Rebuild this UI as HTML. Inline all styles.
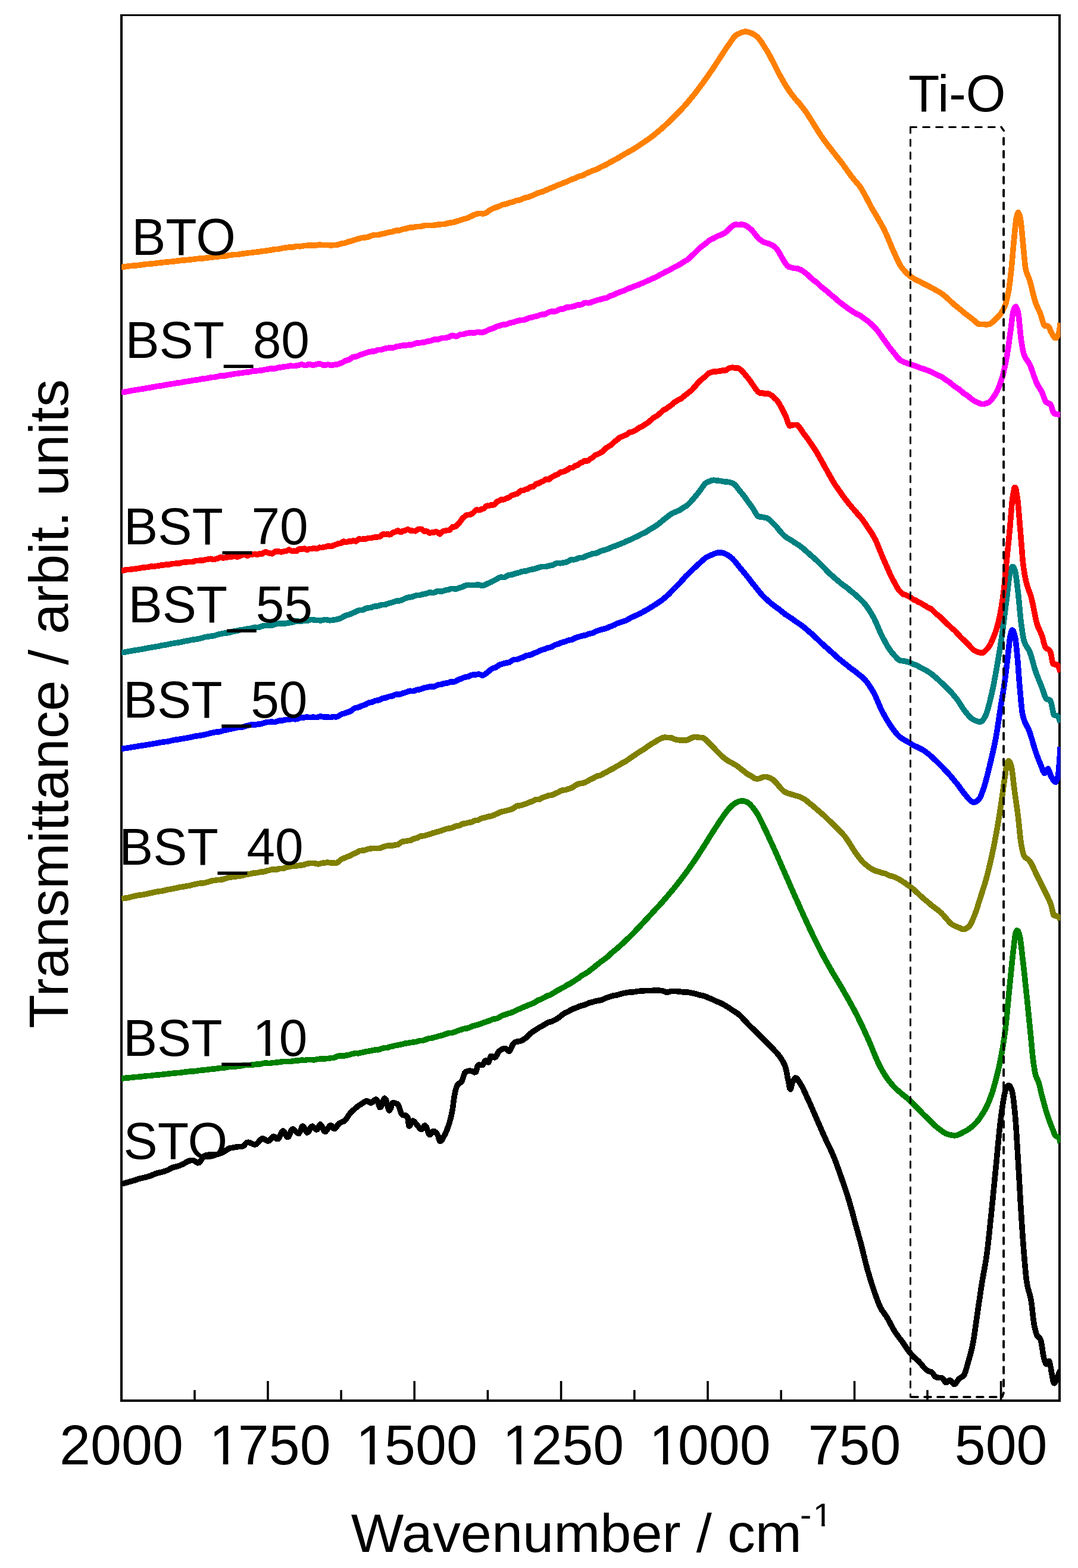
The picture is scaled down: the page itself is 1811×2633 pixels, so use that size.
<!DOCTYPE html>
<html lang="en">
<head>
<meta charset="utf-8">
<title>FTIR transmittance spectra</title>
<style>
html,body{margin:0;padding:0;background:#fff;}
body{width:1811px;height:2633px;overflow:hidden;}
svg{display:block;}
text{font-family:"Liberation Sans",sans-serif;fill:#000;}
.crv{fill:none;stroke-width:9.6;stroke-linejoin:round;stroke-linecap:butt;shape-rendering:crispEdges;}
.ax{fill:none;stroke:#000;stroke-width:3.3;stroke-linecap:square;}
.tk{stroke:#000;stroke-width:3.6;stroke-linecap:butt;}
.tl{font-size:93.4px;text-anchor:middle;}
.lb{font-size:85.7px;}
.at{font-size:92px;}
</style>
</head>
<body>
<svg width="1811" height="2633" viewBox="0 0 1811 2633">
<rect x="0" y="0" width="1811" height="2633" fill="#ffffff"/>
<defs><clipPath id="plot"><rect x="204" y="25" width="1577.3" height="2327"/></clipPath></defs>
<g fill="#000"><rect x="202" y="24" width="4" height="2330"/><rect x="1778" y="24" width="4" height="2330"/><rect x="202" y="24" width="1580" height="3"/><rect x="202" y="2350" width="1580" height="4"/></g>
<g clip-path="url(#plot)">
<path class="crv" stroke="#000000" d="M204 1988.2L206.5 1987.5L209 1986.8L211.5 1986.1L214 1985.5L216.5 1984.7L219 1984L221.5 1983.2L224 1982.6L226.5 1981.9L229 1981L231.5 1980.1L234 1979.2L236.5 1978.6L239 1978.1L241.5 1977.6L244 1977L246.5 1976.3L249 1975.6L251.5 1974.8L254 1974L256.4 1972.9L258.9 1971.8L261.4 1970.8L263.9 1970L266.4 1969.4L268.8 1968.9L271.3 1968.4L273.7 1967.7L276.2 1966.9L278.6 1966.1L281.1 1965.1L283.5 1963.9L286 1962.6L288.4 1961.3L290.9 1960.3L293.3 1959.6L295.8 1959.1L298.2 1958.4L300.6 1957.7L303 1956.8L305.3 1955.8L307.7 1954.6L310 1953.3L312.4 1951.9L314.8 1950.6L317.3 1949.5L319.8 1948.8L322.3 1948.6L324.9 1948.8L327.5 1949.9L329.8 1951.5L332 1952.8L334.6 1952.3L336.7 1949.8L338.4 1947.5L339.9 1945.2L341.4 1943.1L343.1 1941.2L345.2 1940.1L347.7 1939.4L350.3 1939.2L352.8 1939.2L355.4 1939.2L358 1939.3L360.6 1939.2L363.2 1938.8L365.8 1938.2L368.3 1937.3L370.9 1936.4L373.4 1935.5L375.8 1934.3L378 1932.9L380 1931.4L382.1 1930L384.1 1928.8L386.3 1927.9L388.8 1927.5L391.4 1927.2L393.9 1926.7L396.5 1926.2L399.1 1925.8L401.7 1925.5L404.3 1925.4L406.9 1925.3L409.5 1923.9L411.3 1921.9L412.9 1920L414.7 1918.6L416.8 1918.2L419.4 1918.8L421.8 1919.8L424.1 1920.8L426.4 1921.7L428.8 1922L431.4 1920.8L433.4 1918.8L435 1916.8L436.6 1914.8L438.3 1913.1L440.1 1911.9L442.6 1912.1L445 1913.4L447.1 1914.9L449.2 1916L451.7 1915.8L454 1913.7L455.7 1911.6L457.3 1909.7L459.1 1908.3L461.5 1908.9L463.5 1911L465.3 1912.7L467.5 1912.5L469.3 1909.6L470.5 1907.1L471.6 1904.7L472.7 1902.5L473.9 1900.5L475.4 1899.1L477.8 1901L479.2 1903.5L480.3 1905.9L481.5 1908L482.8 1909.6L485 1908.6L486.3 1905.7L487.3 1903.2L488.2 1900.8L489.2 1898.5L490.3 1896.6L491.8 1895.9L494.4 1897.3L496.4 1899.3L498.1 1901.1L500 1902.7L502.1 1903.5L504.7 1899.5L505.5 1897L506.4 1894.6L507.3 1892.4L508.4 1890.9L510.9 1893.3L512.2 1895.8L513.3 1898.2L514.4 1900.3L515.8 1901.9L518.1 1900.7L519.6 1898.1L520.7 1895.7L521.8 1893.5L523.1 1891.7L524.9 1891.2L527.3 1893.2L529 1895.2L530.7 1896.8L532.8 1896.8L534.6 1893.8L535.7 1891.4L536.8 1889.3L538.2 1888L540.8 1890.9L541.9 1893.5L542.9 1895.9L544 1898.1L545.2 1900L546.9 1900.4L549.3 1897.8L550.7 1895.5L552 1893.2L553.3 1891.2L554.9 1889.7L557.2 1890.4L558.9 1892.8L560.3 1894.7L562.1 1895.5L564.6 1893.5L566.1 1891.2L567.5 1889.1L568.9 1887.2L570.7 1885.9L572.9 1884.8L575.3 1883.8L577.7 1882.7L580 1881L581.8 1878.7L583.4 1876.4L584.8 1874.2L586.2 1872L587.7 1870L589.3 1868.1L591.2 1866.4L593 1864.7L594.9 1863L596.8 1861.3L598.8 1859.6L600.8 1858L602.8 1856.5L605 1855.1L607.1 1853.8L609.3 1852.3L611.5 1850.8L613.7 1849.4L616.1 1848.6L618.6 1849.4L620.8 1851.1L623 1852L625.6 1850.8L627.6 1848.9L629.4 1847.1L631.4 1845.9L633.8 1847.8L634.8 1850.6L635.6 1853.2L636.3 1855.6L637.1 1857.9L638.1 1859.7L639.9 1858.6L641.2 1855.6L642.1 1853L643 1850.5L643.8 1848.1L644.7 1845.9L645.8 1844.2L647.8 1845.6L648.9 1848.6L649.6 1851.3L650.3 1853.9L650.9 1856.4L651.6 1858.8L652.3 1861.2L653.1 1863.3L654.2 1864.8L656.4 1861.4L657.1 1858.7L657.8 1856.2L658.5 1853.9L659.3 1852L660.8 1851.5L663.4 1852.2L665.9 1853.1L668.3 1854.2L670 1857.6L670.9 1860.3L671.7 1862.8L672.5 1865.3L673.3 1867.6L674.2 1869.8L675.3 1871.6L677.1 1872.5L679.6 1872.9L682.2 1873.1L684.7 1875.6L685.3 1879.3L685.9 1883.9L686.5 1888.2L687.1 1890.9L688.1 1890.9L690 1887.7L691.1 1885.3L692.2 1883.3L693.6 1882.1L696.2 1883.7L697.9 1885.8L699.5 1887.8L701.2 1889.8L702.9 1891.9L704.4 1894L706.1 1895.7L708.2 1896.4L710.7 1893.6L712.2 1891.5L713.7 1889.8L716.1 1892.3L717.2 1895.1L718 1897.6L718.9 1900.1L719.7 1902.4L720.7 1904.5L722 1905.6L724.6 1903.3L726 1901.2L727.6 1899.6L729.8 1899.9L732.2 1901.7L734.1 1903.7L735.8 1906.8L736.5 1909.5L737.2 1912L737.9 1914.3L738.7 1916.2L740.1 1916.4L742.5 1914L743.9 1911.6L745.2 1909.3L746.4 1907L747.6 1904.7L748.8 1902.2L749.9 1899.7L750.9 1897.2L751.8 1894.7L752.7 1892.2L753.6 1889.7L754.4 1887.2L755.2 1884.7L755.9 1882.1L756.6 1879.5L757.3 1877L757.9 1874.4L758.5 1871.7L759.1 1868.9L759.7 1865.9L760.3 1862.3L760.9 1858.2L761.5 1853.6L762.1 1849L762.7 1844.6L763.3 1840.5L763.9 1837L764.5 1834.3L765.1 1831.9L765.8 1829.4L766.5 1827L767.2 1824.7L768.1 1822.6L769.3 1820.9L771 1819.4L773.2 1818.2L775.4 1816.2L777 1812.7L777.8 1810.1L778.6 1807.6L779.4 1805.1L780.2 1802.8L781.2 1800.8L782.9 1799.5L785.1 1798.7L787.5 1798.3L790 1798.2L792.6 1798.5L795 1799.7L797.2 1800.9L799.7 1799.8L800.7 1796.5L801.3 1793.9L801.9 1791.5L802.6 1789.3L803.6 1788.1L806.2 1788.2L808.7 1788.7L811.2 1788.2L812.6 1785.6L813.6 1783.3L814.7 1781.3L816.2 1780.6L818.8 1782.7L820.7 1784.1L823.3 1777.4L824 1775.1L824.8 1773.4L826.2 1773.4L828.7 1774.7L830.8 1775.8L833.2 1774.3L834.8 1771.6L835.9 1769.2L837.1 1766.9L838.5 1765.1L840.5 1763.6L842.5 1762.4L844.6 1761.3L846.9 1760.6L849.4 1760.5L851.9 1762.5L853.6 1764.5L855.6 1765.4L858 1761.6L859.2 1759L860.2 1756.6L861.3 1754.3L862.6 1752.2L864.4 1750.6L866.7 1749.4L869.2 1749L871.7 1748.7L874.2 1748.2L876.6 1747.2L878.9 1746L881 1744.6L883.1 1743.1L885.2 1741.4L887.2 1739.5L889.2 1737.4L891.2 1735.4L893.2 1733.7L895.3 1732.2L897.4 1730.9L899.5 1729.6L901.7 1728.2L903.8 1726.8L905.9 1725.4L908.1 1724.2L910.3 1723.1L912.5 1721.9L914.8 1720.5L917.1 1719L919.4 1717.6L921.9 1716.5L924.3 1715.9L926.8 1715.2L929.2 1714.2L931.6 1713L933.9 1711.7L936.1 1710.4L938.2 1709L940.3 1707.5L942.3 1705.9L944.4 1704.1L946.5 1702.5L948.7 1701.2L951 1700.1L953.3 1699.1L955.6 1698L957.9 1696.6L960.3 1695.3L962.6 1694.2L965 1693.3L967.4 1692.5L969.8 1691.6L972.2 1690.4L974.6 1689.4L977.1 1688.7L979.5 1688.2L982 1687.5L984.4 1686.5L986.9 1685.3L989.4 1684.2L991.9 1683.5L994.4 1682.9L996.9 1682.3L999.4 1681.5L1001.9 1680.8L1004.4 1680.3L1006.9 1680L1009.4 1679.5L1011.9 1678.7L1014.4 1677.5L1016.8 1676.3L1019.3 1675.4L1021.8 1674.6L1024.2 1673.8L1026.7 1673L1029.2 1672.2L1031.7 1671.6L1034.2 1671.3L1036.7 1670.9L1039.2 1670.2L1041.7 1669.4L1044.3 1668.6L1046.8 1667.9L1049.4 1667.5L1051.9 1667.1L1054.5 1666.6L1057.1 1666.1L1059.6 1665.9L1062.2 1665.8L1064.8 1665.7L1067.4 1665.3L1069.9 1664.8L1072.5 1664.4L1075.1 1664.2L1077.7 1664.1L1080.3 1663.9L1082.9 1663.7L1085.5 1663.5L1088.1 1663.5L1090.7 1663.6L1093.3 1663.6L1095.9 1663.3L1098.5 1663L1101.1 1662.8L1103.7 1662.8L1106.3 1663L1108.9 1663.3L1111.5 1663.6L1114 1664.1L1116.6 1665L1118.8 1666.3L1121.4 1666.1L1124 1665.5L1126.5 1664.7L1129.1 1664.3L1131.7 1664.3L1134.3 1664.5L1136.9 1664.7L1139.5 1664.8L1142.1 1665.1L1144.7 1665.5L1147.2 1665.9L1149.8 1666L1152.4 1666L1155 1666.1L1157.6 1666.4L1160.1 1667L1162.7 1667.6L1165.3 1668.1L1167.8 1668.7L1170.4 1669.4L1172.9 1670.2L1175.4 1670.9L1177.9 1671.5L1180.4 1671.9L1182.8 1672.5L1185.3 1673.3L1187.8 1674.4L1190.2 1675.5L1192.6 1676.5L1195.1 1677.4L1197.5 1678.5L1199.9 1679.7L1202.3 1680.9L1204.6 1681.9L1207 1682.8L1209.3 1683.6L1211.6 1684.7L1214 1685.9L1216.2 1687.3L1218.5 1688.6L1220.8 1690L1223 1691.3L1225.3 1692.8L1227.5 1694.3L1229.7 1695.8L1231.9 1697.3L1234.1 1698.6L1236.2 1699.9L1238.3 1701.3L1240.4 1702.9L1242.4 1704.6L1244.3 1706.4L1246.2 1708.3L1248 1710.2L1249.8 1712.1L1251.6 1714L1253.4 1716L1255.2 1717.9L1257 1719.9L1258.8 1721.8L1260.7 1723.6L1262.5 1725.4L1264.4 1727.1L1266.2 1728.8L1268 1730.6L1269.9 1732.5L1271.7 1734.3L1273.6 1736.2L1275.4 1737.9L1277.3 1739.7L1279.1 1741.5L1281 1743.3L1282.8 1745.3L1284.7 1747.2L1286.5 1749.1L1288.4 1750.9L1290.3 1752.7L1292.1 1754.5L1294 1756.3L1295.8 1758.2L1297.6 1760.1L1299.4 1762.1L1301.1 1764L1302.9 1765.8L1304.6 1767.7L1306.3 1769.6L1308 1771.6L1309.6 1773.7L1311.2 1776L1312.7 1778.2L1314.1 1780.5L1315.5 1782.8L1316.7 1785.3L1317.9 1787.8L1318.9 1790.3L1319.8 1793.1L1320.5 1795.9L1321.1 1798.7L1321.7 1801.7L1322.3 1804.9L1322.9 1808L1323.5 1811L1324.1 1813.8L1324.7 1816.8L1325.3 1820L1325.9 1823.3L1326.5 1826.1L1327.1 1828.2L1328.1 1829.1L1329.9 1823.1L1330.5 1820.5L1331.1 1818.2L1331.9 1816.3L1333.1 1813.9L1334.4 1811.8L1335.8 1810L1338.1 1810.5L1340.2 1813L1341.8 1815.3L1343.2 1817.5L1344.6 1819.7L1346 1822L1347.3 1824.3L1348.6 1826.7L1349.8 1829.1L1350.9 1831.6L1352 1834L1353.1 1836.4L1354.2 1838.8L1355.2 1841.1L1356.3 1843.5L1357.4 1845.8L1358.5 1848.2L1359.6 1850.5L1360.6 1852.9L1361.7 1855.2L1362.7 1857.6L1363.8 1859.9L1364.8 1862.3L1365.8 1864.7L1366.8 1867.1L1367.9 1869.5L1368.9 1871.9L1369.9 1874.3L1371 1876.6L1372 1879L1373 1881.4L1374.1 1883.8L1375.1 1886.2L1376.2 1888.5L1377.2 1891L1378.3 1893.4L1379.3 1895.8L1380.4 1898.2L1381.4 1900.6L1382.5 1903L1383.6 1905.4L1384.6 1907.8L1385.7 1910.1L1386.8 1912.5L1387.8 1914.8L1388.9 1917.1L1390 1919.4L1391.1 1921.7L1392.2 1924L1393.4 1926.3L1394.5 1928.7L1395.6 1931L1396.7 1933.4L1397.8 1935.8L1398.8 1938.2L1399.9 1940.6L1400.9 1943L1401.9 1945.5L1402.8 1947.9L1403.8 1950.4L1404.7 1952.9L1405.6 1955.3L1406.5 1957.8L1407.4 1960.3L1408.3 1962.8L1409.2 1965.3L1410.1 1967.7L1410.9 1970.2L1411.8 1972.7L1412.7 1975.1L1413.5 1977.6L1414.4 1980L1415.2 1982.5L1416.1 1984.9L1417 1987.4L1417.8 1989.8L1418.6 1992.3L1419.5 1994.7L1420.3 1997.2L1421.1 1999.7L1421.9 2002.2L1422.7 2004.6L1423.5 2007.1L1424.3 2009.6L1425.1 2012.1L1425.9 2014.6L1426.6 2017.1L1427.4 2019.6L1428.1 2022.1L1428.8 2024.6L1429.5 2027.2L1430.2 2029.7L1430.9 2032.2L1431.6 2034.7L1432.3 2037.2L1432.9 2039.8L1433.6 2042.3L1434.3 2044.8L1435 2047.3L1435.6 2049.8L1436.3 2052.4L1437 2054.9L1437.7 2057.4L1438.4 2059.9L1439.1 2062.4L1439.8 2064.9L1440.5 2067.4L1441.2 2069.9L1441.9 2072.4L1442.6 2074.9L1443.3 2077.4L1444 2079.9L1444.7 2082.4L1445.4 2084.9L1446.1 2087.5L1446.8 2090L1447.4 2092.5L1448.1 2095.1L1448.7 2097.6L1449.3 2100.2L1449.9 2102.7L1450.5 2105.2L1451.1 2107.8L1451.8 2110.3L1452.4 2112.8L1453 2115.3L1453.6 2117.8L1454.2 2120.3L1454.8 2122.8L1455.5 2125.3L1456.2 2127.8L1456.8 2130.2L1457.5 2132.7L1458.2 2135.2L1459 2137.6L1459.7 2140.1L1460.4 2142.6L1461.2 2145.1L1461.9 2147.6L1462.7 2150L1463.5 2152.5L1464.2 2155L1465 2157.5L1465.8 2159.9L1466.7 2162.4L1467.5 2164.8L1468.4 2167.3L1469.2 2169.8L1470 2172.2L1470.9 2174.7L1471.7 2177.1L1472.6 2179.5L1473.5 2181.9L1474.4 2184.4L1475.3 2186.7L1476.3 2189.1L1477.2 2191.5L1478.3 2193.8L1479.4 2196.1L1480.6 2198.3L1481.8 2200.4L1483.2 2202.4L1484.7 2204.4L1486.2 2206.5L1487.7 2208.6L1489.2 2210.8L1490.6 2213.1L1492 2215.5L1493.2 2217.8L1494.5 2220.1L1495.7 2222.4L1496.9 2224.7L1498.2 2227L1499.4 2229.3L1500.7 2231.5L1502 2233.7L1503.3 2235.9L1504.7 2238.1L1506.2 2240.3L1507.7 2242.4L1509.2 2244.4L1510.7 2246.5L1512.3 2248.5L1513.8 2250.5L1515.4 2252.5L1516.9 2254.7L1518.4 2256.9L1519.8 2259.1L1521.3 2261.2L1522.8 2263.4L1524.2 2265.5L1525.7 2267.6L1527.3 2269.6L1528.9 2271.6L1530.6 2273.5L1532.3 2275.5L1534.1 2277.4L1535.9 2279.3L1537.8 2281L1539.7 2282.7L1541.6 2284.4L1543.5 2286.2L1545.3 2288.1L1547.1 2290.1L1548.8 2292.1L1550.4 2294.1L1552.1 2296.1L1553.8 2297.9L1555.6 2299.6L1557.6 2301.1L1559.7 2302.4L1562.1 2303.2L1564.7 2303.9L1567.1 2306.1L1568.6 2308.3L1570 2310.4L1571.5 2312.1L1573.5 2312.9L1576.1 2313.3L1578.7 2313.5L1581.2 2313.6L1583.8 2314.6L1585.6 2317.2L1586.9 2319.5L1588.3 2321.3L1590.3 2321.5L1592.6 2319.7L1594.6 2318.1L1596.9 2318.1L1599 2320.4L1600.7 2322.4L1602.4 2324.1L1604.6 2324L1606.7 2321.5L1608.2 2319.2L1609.6 2317.1L1611.2 2315.3L1613.1 2313.8L1615.4 2312.7L1617.6 2311.2L1619.6 2309L1620.9 2306.1L1621.9 2303.5L1622.7 2300.9L1623.4 2298.3L1624.2 2295.7L1624.8 2293.2L1625.5 2290.7L1626.2 2288.3L1626.9 2285.8L1627.7 2283.3L1628.4 2280.8L1629.1 2278.3L1629.8 2275.7L1630.5 2273.2L1631.1 2270.6L1631.8 2268.1L1632.4 2265.5L1633 2262.8L1633.6 2260.1L1634.2 2257.2L1634.8 2254.2L1635.4 2250.8L1636 2247.3L1636.6 2243.5L1637.2 2239.5L1637.8 2235.3L1638.4 2231.1L1639 2226.8L1639.6 2222.4L1640.2 2218.1L1640.8 2213.8L1641.4 2209.5L1642 2205.4L1642.6 2201.4L1643.2 2197.3L1643.8 2193.3L1644.4 2189.2L1645 2185.1L1645.6 2181L1646.2 2176.9L1646.8 2172.8L1647.4 2168.8L1648 2164.8L1648.6 2160.9L1649.2 2157L1649.8 2153.2L1650.4 2149.6L1651 2146.1L1651.6 2142.7L1652.2 2139.4L1652.8 2136.1L1653.4 2132.9L1654 2129.6L1654.6 2126.3L1655.2 2122.9L1655.8 2119.3L1656.4 2115.6L1657 2111.7L1657.6 2107.6L1658.2 2103.1L1658.8 2098.4L1659.4 2093.4L1660 2088.3L1660.6 2082.9L1661.2 2077.3L1661.8 2071.7L1662.4 2065.9L1663 2060.1L1663.6 2054.3L1664.2 2048.5L1664.8 2042.7L1665.4 2036.9L1666 2031.2L1666.6 2025.3L1667.2 2019.4L1667.8 2013.4L1668.4 2007.4L1669 2001.3L1669.6 1995.2L1670.2 1989.1L1670.8 1983L1671.4 1976.9L1672 1970.8L1672.6 1964.7L1673.2 1958.7L1673.8 1952.5L1674.4 1946.2L1675 1939.9L1675.6 1933.4L1676.2 1927L1676.8 1920.6L1677.4 1914.4L1678 1908.2L1678.6 1902.2L1679.2 1896.5L1679.8 1891L1680.4 1885.8L1681 1880.9L1681.6 1876.2L1682.2 1871.5L1682.8 1867L1683.4 1862.6L1684 1858.3L1684.6 1854.3L1685.2 1850.4L1685.8 1846.8L1686.4 1843.4L1687 1840.4L1687.6 1837.5L1688.2 1834.6L1688.8 1831.9L1689.4 1829.4L1690 1827.1L1690.8 1825.3L1692.3 1823.8L1694.3 1822.6L1696.8 1824L1698.2 1826.8L1699.2 1829.4L1700.1 1832L1700.9 1835.1L1701.5 1838.5L1702.1 1842.5L1702.7 1847.1L1703.3 1852.1L1703.9 1857.6L1704.5 1863.3L1705.1 1869.2L1705.7 1875.6L1706.3 1883.2L1706.9 1891.8L1707.5 1901L1708.1 1910.8L1708.7 1920.9L1709.3 1931.1L1709.9 1941.2L1710.5 1951L1711.1 1961.1L1711.7 1971.5L1712.3 1982.1L1712.9 1992.9L1713.5 2003.6L1714.1 2014.1L1714.7 2024.4L1715.3 2034.2L1715.9 2043.5L1716.5 2052.8L1717.1 2061.9L1717.7 2070.8L1718.3 2079.4L1718.9 2087.7L1719.5 2095.5L1720.1 2102.9L1720.7 2110.2L1721.3 2117.4L1721.9 2124.5L1722.5 2131.2L1723.1 2137.5L1723.7 2143.3L1724.3 2148.4L1724.9 2152.7L1725.5 2156.2L1726.1 2159.3L1726.7 2162.1L1727.3 2164.5L1728 2166.9L1728.7 2169.4L1729.4 2171.9L1730.1 2174.5L1730.8 2177.1L1731.4 2179.8L1732 2182.8L1732.6 2186.3L1733.2 2190.7L1733.8 2195.7L1734.4 2201.1L1735 2206.6L1735.6 2212L1736.2 2217L1736.8 2221.4L1737.4 2224.9L1738 2227.7L1738.6 2230.5L1739.2 2233.1L1739.8 2235.5L1740.5 2237.9L1741.2 2240.1L1742.1 2242.3L1743.2 2244.1L1745 2245.6L1747.1 2247.4L1748.7 2251.2L1749.3 2254.1L1749.9 2257.6L1750.5 2261.4L1751.1 2265.5L1751.7 2269.6L1752.3 2273.4L1752.9 2276.9L1753.5 2279.9L1754.1 2282L1754.9 2284.6L1755.7 2286.9L1756.5 2289.1L1757.6 2290.8L1759.9 2289.2L1761.3 2287L1762.8 2285.6L1765.4 2297.1L1766 2301.4L1766.6 2305.4L1767.2 2308.5L1767.8 2311.6L1768.4 2314.9L1769 2318L1769.6 2320.6L1770.3 2322.5L1771.5 2322.8L1773.4 2319.2L1774.4 2316.7L1775.3 2314.3L1776.3 2312.1L1777.4 2309.7L1778.5 2307.3L1779.6 2304.9L1780.6 2302.5L1781.3 2301"/>
<path class="crv" stroke="#008000" d="M204 1811L206.6 1810.8L209.2 1810.4L211.8 1810.2L214.4 1810.1L216.9 1809.8L219.5 1809.5L222.1 1809.2L224.7 1809L227.3 1808.7L229.9 1808.5L232.5 1808.3L235.1 1808L237.6 1807.8L240.2 1807.5L242.8 1807.1L245.4 1806.8L248 1806.6L250.6 1806.4L253.2 1806.3L255.8 1806L258.3 1805.6L260.9 1805.3L263.5 1805.1L266.1 1804.9L268.7 1804.7L271.3 1804.4L273.9 1804.1L276.4 1803.8L279 1803.5L281.6 1803.3L284.2 1802.9L286.8 1802.7L289.4 1802.5L292 1802.1L294.5 1801.9L297.1 1801.7L299.7 1801.5L302.3 1801.3L304.9 1801L307.5 1800.6L310.1 1800.2L312.6 1800L315.2 1799.7L317.8 1799.3L320.4 1799.1L323 1799L325.6 1798.8L328.2 1798.6L330.7 1798.3L333.3 1797.8L335.9 1797.4L338.5 1797.2L341.1 1796.9L343.7 1796.7L346.3 1796.5L348.8 1796.1L351.4 1795.7L354 1795.5L356.6 1795.1L359.2 1794.8L361.7 1794.7L364.3 1794.4L366.9 1793.9L369.5 1793.6L372.1 1793.4L374.7 1793.2L377.2 1793L379.8 1792.6L382.4 1791.9L385 1791.5L387.6 1791.4L390.2 1791.2L392.7 1791L395.3 1791L397.9 1790.7L400.5 1790.4L403.1 1790.2L405.7 1789.6L408.2 1788.9L410.8 1788.7L413.4 1788.5L416 1788.3L418.6 1788.3L421.2 1788.3L423.8 1788L426.4 1787.7L428.9 1787.5L431.5 1787L434.1 1786.8L436.7 1786.8L439.3 1786.3L441.9 1785.5L444.5 1785.2L447.1 1785.1L449.7 1785.3L452.2 1785.6L454.8 1785.3L457.4 1784.6L460 1784.4L462.6 1784.3L465.2 1783.9L467.8 1783.7L470.4 1783.4L473 1782.9L475.5 1782.6L478.1 1782.5L480.7 1782.3L483.3 1782.3L485.9 1782.7L488.5 1782.5L491.1 1781.9L493.7 1781.6L496.3 1781.2L498.9 1780.8L501.5 1780.8L504.1 1780.5L506.6 1780.1L509.2 1780.3L511.8 1780.5L514.4 1780L517 1779.5L519.6 1779.3L522.2 1779.3L524.8 1779.6L527.4 1779.9L530 1779.4L532.6 1778.7L535.2 1778.4L537.8 1778.1L540.4 1777.8L543 1778L545.6 1778L548.1 1777.6L550.7 1777.5L553.3 1777.2L555.9 1776.6L558.4 1776.5L561 1776.2L563.6 1775.1L566.1 1774L568.7 1773.3L571.2 1772.9L573.8 1773L576.3 1773.2L578.9 1772.9L581.5 1772.2L584 1771.9L586.6 1771.4L589.1 1770.4L591.7 1769.6L594.3 1769.1L596.8 1768.6L599.4 1768.7L602 1768.8L604.5 1768.2L607.1 1767.5L609.6 1767.2L612.2 1766.5L614.8 1765.8L617.3 1765.5L619.9 1765.1L622.4 1764.5L625 1764.1L627.5 1763.5L630.1 1762.8L632.6 1762.7L635.2 1762.8L637.7 1762.1L640.3 1761.1L642.8 1760.3L645.4 1759.6L647.9 1759.4L650.5 1759.4L653 1758.8L655.5 1757.7L658.1 1757.1L660.6 1756.6L663.1 1755.8L665.7 1755.4L668.2 1755L670.8 1754.4L673.3 1754L675.8 1753.6L678.4 1752.7L680.9 1752L683.5 1751.8L686 1751.4L688.6 1750.8L691.2 1750.5L693.7 1750.2L696.3 1749.7L698.9 1749.4L701.4 1748.7L704 1747.8L706.5 1747.4L709.1 1747.5L711.6 1747L714.1 1746L716.7 1745.1L719.2 1744.1L721.7 1743.4L724.2 1743.4L726.7 1743L729.2 1742.1L731.8 1741.4L734.3 1740.8L736.8 1740L739.3 1739.3L741.8 1738.9L744.3 1738L746.8 1737.1L749.3 1736.3L751.8 1735.4L754.3 1734.5L756.8 1734.4L759.3 1734.3L761.8 1733.6L764.3 1732.7L766.8 1731.8L769.3 1730.7L771.8 1729.9L774.3 1729.3L776.8 1728.3L779.3 1727.4L781.8 1727.1L784.3 1726.9L786.8 1726.1L789.3 1725.2L791.7 1724.1L794.2 1722.9L796.7 1722.2L799.2 1721.8L801.7 1721.1L804.1 1720.2L806.6 1719.5L809.1 1718.7L811.5 1717.5L814 1716.7L816.4 1716L818.9 1715.1L821.4 1714.2L823.8 1713.3L826.3 1712.2L828.7 1711.2L831.2 1710.9L833.6 1710.6L836 1709.7L838.5 1708.4L840.9 1707.1L843.3 1705.6L845.8 1704.6L848.2 1704L850.6 1703.2L853 1702.2L855.5 1701.5L857.9 1700.9L860.3 1699.9L862.7 1698.9L865.1 1697.8L867.5 1696.6L869.9 1695.3L872.3 1694.4L874.7 1693.5L877.1 1692.2L879.5 1691.1L881.9 1690.4L884.2 1689.3L886.6 1688.1L889 1687.2L891.3 1686.4L893.7 1685.4L896.1 1684.4L898.4 1683.3L900.8 1681.6L903.1 1680L905.5 1679.1L907.8 1678.4L910.1 1677.3L912.5 1676.1L914.8 1674.8L917.1 1673.4L919.5 1672.2L921.8 1671.5L924.1 1670.7L926.4 1669.4L928.7 1668L931 1666.8L933.3 1665.3L935.6 1663.7L937.9 1662.5L940.1 1661.4L942.4 1660.1L944.7 1658.9L947 1657.9L949.2 1656.5L951.5 1654.9L953.7 1653.6L955.9 1652.6L958.2 1651.4L960.4 1649.9L962.6 1648.6L964.8 1647.2L967 1645.7L969.2 1644.2L971.4 1642.9L973.6 1641.3L975.8 1639.4L977.9 1637.8L980.1 1636.7L982.2 1635.6L984.4 1634.4L986.5 1633.1L988.6 1631.6L990.7 1629.9L992.8 1628.1L994.9 1626.5L997 1625L999.1 1623.3L1001.2 1621.5L1003.2 1619.9L1005.3 1618.3L1007.3 1616.7L1009.4 1615L1011.4 1613.5L1013.4 1612.2L1015.5 1610.7L1017.5 1609.2L1019.5 1607.6L1021.5 1606L1023.5 1604L1025.5 1602L1027.5 1600.1L1029.5 1598.5L1031.5 1597L1033.5 1595.4L1035.4 1593.7L1037.4 1592.1L1039.3 1590.4L1041.3 1588.6L1043.2 1586.9L1045.1 1585.2L1047.1 1583.5L1049 1581.6L1050.9 1579.7L1052.8 1577.8L1054.7 1576.1L1056.5 1574.4L1058.4 1572.5L1060.3 1570.7L1062.1 1568.9L1063.9 1567L1065.8 1565.1L1067.6 1563.2L1069.4 1561.3L1071.2 1559.5L1072.9 1557.6L1074.7 1555.7L1076.5 1553.7L1078.3 1551.9L1080 1550L1081.8 1548.1L1083.6 1546.1L1085.3 1544.2L1087.1 1542.3L1088.9 1540.4L1090.6 1538.5L1092.4 1536.6L1094.2 1534.8L1095.9 1532.9L1097.7 1530.9L1099.5 1528.9L1101.2 1526.9L1103 1525L1104.8 1523.2L1106.5 1521.4L1108.3 1519.5L1110 1517.6L1111.8 1515.7L1113.5 1513.7L1115.2 1511.7L1117 1509.6L1118.7 1507.7L1120.4 1505.7L1122.1 1503.8L1123.8 1501.7L1125.4 1499.7L1127.1 1497.7L1128.8 1495.8L1130.4 1493.8L1132.1 1491.8L1133.7 1489.7L1135.3 1487.7L1137 1485.7L1138.6 1483.6L1140.2 1481.5L1141.8 1479.5L1143.4 1477.5L1145 1475.4L1146.5 1473.4L1148.1 1471.2L1149.7 1469.1L1151.2 1467L1152.8 1464.9L1154.3 1462.9L1155.9 1460.7L1157.4 1458.6L1158.9 1456.4L1160.4 1454.3L1161.9 1452.2L1163.4 1450L1164.8 1447.9L1166.3 1445.7L1167.7 1443.6L1169.2 1441.5L1170.6 1439.4L1172.1 1437.2L1173.5 1434.9L1174.9 1432.7L1176.3 1430.5L1177.8 1428.3L1179.2 1426.1L1180.6 1423.9L1182 1421.7L1183.4 1419.5L1184.8 1417.3L1186.1 1415.2L1187.5 1412.9L1188.9 1410.7L1190.2 1408.4L1191.6 1406.2L1193 1404.1L1194.4 1401.9L1195.8 1399.8L1197.2 1397.6L1198.6 1395.4L1200 1393.2L1201.4 1391L1202.8 1388.9L1204.2 1386.7L1205.6 1384.5L1207 1382.2L1208.5 1380L1209.9 1377.9L1211.4 1375.8L1212.9 1373.6L1214.4 1371.5L1215.8 1369.4L1217.3 1367.4L1218.8 1365.3L1220.3 1363.3L1221.9 1361.3L1223.5 1359.2L1225.2 1357.3L1227 1355.5L1228.9 1353.8L1230.8 1352L1232.8 1350.4L1234.8 1348.9L1237 1347.6L1239.3 1346.5L1241.7 1345.6L1244.1 1345.1L1246.6 1344.8L1249.2 1345L1251.8 1345.6L1254.2 1346.6L1256.6 1347.8L1258.8 1349.6L1260.8 1351.5L1262.6 1353.5L1264.3 1355.5L1265.9 1357.6L1267.5 1359.7L1269 1361.8L1270.6 1364L1272 1366.3L1273.4 1368.6L1274.6 1370.9L1275.9 1373.3L1277.1 1375.6L1278.2 1378L1279.4 1380.3L1280.5 1382.6L1281.6 1384.9L1282.7 1387.3L1283.8 1389.6L1285 1391.9L1286.1 1394.2L1287.3 1396.6L1288.4 1399L1289.5 1401.4L1290.6 1403.8L1291.7 1406.2L1292.8 1408.6L1293.9 1411L1295 1413.3L1296.1 1415.7L1297.1 1418L1298.2 1420.4L1299.3 1422.7L1300.4 1425.1L1301.4 1427.4L1302.5 1429.8L1303.6 1432.2L1304.6 1434.5L1305.7 1436.9L1306.7 1439.3L1307.8 1441.7L1308.8 1444.1L1309.9 1446.5L1310.9 1448.9L1312 1451.2L1313 1453.6L1314.1 1456L1315.1 1458.4L1316.1 1460.8L1317.2 1463.2L1318.2 1465.6L1319.3 1467.9L1320.3 1470.3L1321.4 1472.7L1322.4 1475.1L1323.4 1477.4L1324.5 1479.8L1325.5 1482.2L1326.6 1484.6L1327.6 1487L1328.6 1489.4L1329.7 1491.8L1330.7 1494.1L1331.8 1496.5L1332.8 1498.9L1333.9 1501.3L1334.9 1503.6L1336 1506L1337 1508.4L1338.1 1510.7L1339.2 1513.1L1340.2 1515.5L1341.3 1517.8L1342.3 1520.2L1343.4 1522.6L1344.5 1525L1345.5 1527.3L1346.6 1529.7L1347.7 1532L1348.7 1534.4L1349.8 1536.8L1350.9 1539.2L1352 1541.6L1353.1 1543.9L1354.2 1546.3L1355.2 1548.6L1356.3 1551L1357.4 1553.3L1358.5 1555.7L1359.6 1558L1360.7 1560.4L1361.8 1562.7L1363 1565L1364.1 1567.4L1365.2 1569.7L1366.3 1572.1L1367.5 1574.5L1368.6 1576.8L1369.8 1579.1L1370.9 1581.4L1372.1 1583.7L1373.2 1586L1374.4 1588.3L1375.6 1590.6L1376.8 1592.9L1377.9 1595.2L1379.1 1597.5L1380.3 1599.8L1381.5 1602.1L1382.8 1604.4L1384 1606.8L1385.2 1609L1386.5 1611.3L1387.7 1613.6L1389 1615.8L1390.2 1618.1L1391.5 1620.3L1392.8 1622.6L1394.1 1624.9L1395.4 1627.1L1396.7 1629.4L1397.9 1631.6L1399.2 1633.9L1400.6 1636.1L1401.9 1638.4L1403.2 1640.6L1404.5 1642.8L1405.9 1645L1407.2 1647.2L1408.5 1649.4L1409.9 1651.6L1411.2 1653.8L1412.5 1656.1L1413.8 1658.3L1415.2 1660.6L1416.5 1662.9L1417.8 1665.2L1419.1 1667.5L1420.4 1669.7L1421.7 1672L1423 1674.2L1424.3 1676.5L1425.5 1678.8L1426.8 1681.1L1428.1 1683.4L1429.3 1685.7L1430.6 1687.9L1431.8 1690.2L1433 1692.5L1434.3 1694.7L1435.5 1697L1436.7 1699.3L1437.9 1701.6L1439.1 1703.9L1440.3 1706.3L1441.5 1708.6L1442.6 1711L1443.8 1713.4L1444.9 1715.7L1446.1 1718L1447.2 1720.4L1448.3 1722.8L1449.5 1725.1L1450.6 1727.5L1451.7 1729.9L1452.7 1732.3L1453.8 1734.6L1454.9 1737L1456 1739.4L1457 1741.8L1458.1 1744.2L1459.2 1746.5L1460.2 1748.9L1461.3 1751.3L1462.3 1753.7L1463.3 1756L1464.3 1758.5L1465.3 1760.9L1466.3 1763.3L1467.2 1765.7L1468.2 1768.1L1469.2 1770.5L1470.2 1772.9L1471.2 1775.3L1472.2 1777.6L1473.2 1780L1474.3 1782.4L1475.4 1784.7L1476.5 1787.1L1477.7 1789.4L1478.8 1791.7L1480.1 1793.9L1481.3 1796.2L1482.5 1798.4L1483.8 1800.6L1485.1 1802.7L1486.5 1804.9L1487.9 1807L1489.3 1809.2L1490.8 1811.3L1492.3 1813.5L1493.9 1815.5L1495.5 1817.5L1497.1 1819.4L1498.7 1821.4L1500.4 1823.3L1502.2 1825.2L1504 1827L1505.8 1828.8L1507.7 1830.5L1509.7 1832.2L1511.6 1833.8L1513.6 1835.5L1515.6 1837.3L1517.6 1839L1519.7 1840.6L1521.7 1842.2L1523.7 1843.9L1525.7 1845.6L1527.7 1847.2L1529.6 1849L1531.5 1850.8L1533.3 1852.6L1535.2 1854.4L1537 1856.3L1538.9 1858.1L1540.7 1860.1L1542.5 1862L1544.3 1863.8L1546.1 1865.7L1547.9 1867.6L1549.7 1869.6L1551.6 1871.4L1553.4 1873.2L1555.3 1874.9L1557.1 1876.7L1559 1878.4L1560.8 1880.1L1562.7 1882L1564.5 1884L1566.3 1885.9L1568.2 1887.8L1570.1 1889.5L1572 1891.2L1573.9 1892.8L1575.9 1894.4L1578 1896L1580.1 1897.5L1582.2 1899.2L1584.3 1900.6L1586.4 1902L1588.6 1903.2L1590.9 1904.3L1593.3 1905L1595.9 1905.5L1598.4 1906.1L1601 1906.6L1603.5 1906.8L1606.1 1906.6L1608.7 1905.9L1611.2 1904.8L1613.5 1903.7L1615.9 1902.6L1618.2 1901.3L1620.5 1900L1622.8 1898.8L1625.1 1897.6L1627.3 1896.1L1629.4 1894.6L1631.5 1893L1633.5 1891.3L1635.5 1889.4L1637.4 1887.6L1639.3 1885.8L1641.1 1883.9L1642.8 1881.8L1644.4 1879.7L1646 1877.5L1647.5 1875.3L1648.9 1873.1L1650.3 1870.9L1651.7 1868.7L1653.1 1866.4L1654.4 1864.1L1655.6 1861.8L1656.8 1859.5L1658 1857.1L1659.1 1854.7L1660.1 1852.2L1661.2 1849.8L1662.2 1847.4L1663.1 1844.9L1664.1 1842.5L1665 1840L1665.9 1837.5L1666.8 1834.9L1667.6 1832.4L1668.4 1829.8L1669.1 1827.3L1669.8 1824.7L1670.5 1822.2L1671.2 1819.7L1671.9 1817.2L1672.6 1814.7L1673.2 1812.1L1673.9 1809.6L1674.6 1807.1L1675.2 1804.5L1675.8 1802L1676.4 1799.4L1677 1796.9L1677.6 1794.3L1678.2 1791.6L1678.8 1788.9L1679.4 1786L1680 1783.2L1680.6 1780.2L1681.2 1777.1L1681.8 1774L1682.4 1770.9L1683 1767.6L1683.6 1764.3L1684.2 1760.8L1684.8 1757.3L1685.4 1753.6L1686 1749.8L1686.6 1745.9L1687.2 1741.8L1687.8 1737.5L1688.4 1733.1L1689 1728.4L1689.6 1723.2L1690.2 1717.7L1690.8 1712L1691.4 1705.9L1692 1699.7L1692.6 1693.4L1693.2 1687L1693.8 1680.6L1694.4 1674.2L1695 1667.9L1695.6 1661.7L1696.2 1655.7L1696.8 1649.8L1697.4 1643.8L1698 1637.7L1698.6 1631.6L1699.2 1625.6L1699.8 1619.6L1700.4 1613.7L1701 1608L1701.6 1602.6L1702.2 1597.3L1702.8 1592.3L1703.4 1587.1L1704 1581.7L1704.6 1576.6L1705.2 1572.1L1705.8 1568.5L1706.4 1566.1L1707.3 1564.1L1708.4 1562.3L1710.3 1563.4L1711.5 1566.4L1712.3 1569L1713.1 1571.6L1713.7 1574.7L1714.3 1578.5L1714.9 1582.9L1715.5 1587.8L1716.1 1593L1716.7 1598.4L1717.3 1603.8L1717.9 1608.9L1718.5 1613.9L1719.1 1619.1L1719.7 1624.3L1720.3 1629.7L1720.9 1635.1L1721.5 1640.7L1722.1 1646.3L1722.7 1651.9L1723.3 1657.6L1723.9 1663.3L1724.5 1669L1725.1 1674.7L1725.7 1680.5L1726.3 1686.4L1726.9 1692.4L1727.5 1698.3L1728.1 1704.3L1728.7 1710.4L1729.3 1716.4L1729.9 1722.4L1730.5 1728.4L1731.1 1734.4L1731.7 1740.6L1732.3 1747L1732.9 1753.5L1733.5 1760L1734.1 1766.2L1734.7 1772.1L1735.3 1777.6L1735.9 1782.3L1736.5 1786.6L1737.1 1790.7L1737.7 1794.5L1738.3 1798L1738.9 1801.2L1739.5 1803.9L1740.1 1806.2L1740.9 1808.4L1741.8 1810.6L1742.8 1812.8L1744 1815.2L1745 1818L1745.8 1820.7L1746.5 1823.4L1747.1 1826L1747.7 1828.6L1748.3 1831.3L1748.9 1833.9L1749.5 1836.5L1750.1 1838.9L1750.8 1841.4L1751.4 1844L1752.1 1846.5L1752.8 1849L1753.5 1851.5L1754.1 1854L1754.8 1856.5L1755.5 1858.9L1756.2 1861.4L1756.9 1863.9L1757.7 1866.3L1758.4 1868.8L1759.2 1871.2L1760 1873.7L1760.8 1876.1L1761.6 1878.5L1762.5 1880.9L1763.3 1883.4L1764.3 1885.8L1765.2 1888.2L1766.1 1890.6L1767.1 1893L1768.1 1895.4L1769.1 1897.9L1770 1900.3L1770.8 1902.7L1771.8 1905L1772.9 1906.9L1774.4 1908.1L1776.8 1908.9L1779.2 1911.1L1780.2 1914.3L1780.8 1917L1781.3 1919"/>
<path class="crv" stroke="#808000" d="M204 1509.2L206.5 1508.8L209.1 1508.3L211.6 1507.9L214.2 1507.6L216.7 1507.1L219.3 1506.4L221.8 1505.7L224.4 1505.2L227 1504.6L229.5 1503.9L232.1 1503.3L234.6 1503L237.2 1502.8L239.7 1502.5L242.3 1501.9L244.8 1501.4L247.4 1500.9L249.9 1500.3L252.5 1499.6L255 1499.1L257.6 1498.6L260.1 1498L262.7 1497.4L265.2 1497L267.8 1496.7L270.3 1496.5L272.9 1496L275.4 1495.3L278 1494.7L280.5 1494.1L283.1 1493.6L285.6 1493.2L288.2 1492.7L290.7 1492.2L293.3 1491.7L295.8 1491.2L298.4 1490.7L300.9 1490.1L303.5 1489.6L306 1489.2L308.6 1488.8L311.1 1488.3L313.7 1487.8L316.3 1487.5L318.8 1487L321.4 1486.3L323.9 1485.6L326.5 1485.1L329 1484.6L331.6 1484L334.1 1483.4L336.7 1483.2L339.2 1483.1L341.8 1482.9L344.3 1482.3L346.9 1481.6L349.4 1481L352 1480.2L354.5 1479.3L357.1 1478.8L359.6 1478.5L362.2 1478.2L364.8 1477.7L367.3 1477.3L369.9 1477.3L372.4 1477.2L375 1476.6L377.5 1475.7L380.1 1474.8L382.6 1474L385.2 1473.4L387.7 1473L390.3 1472.7L392.8 1472.5L395.4 1472.1L398 1471.7L400.5 1471.3L403.1 1470.9L405.6 1470.4L408.2 1469.9L410.7 1469.2L413.3 1468.5L415.9 1467.9L418.4 1467.7L421 1467.3L423.5 1466.6L426.1 1465.9L428.6 1465.8L431.2 1465.7L433.8 1465.2L436.3 1464.4L438.9 1464.1L441.4 1464.1L444 1463.7L446.5 1462.8L449.1 1462L451.7 1461.5L454.2 1460.8L456.8 1460L459.3 1459.8L461.9 1460.2L464.5 1460.3L467 1459.4L469.6 1458.5L472.2 1458.4L474.7 1458.5L477.3 1457.9L479.9 1456.9L482.4 1456.1L485 1455.5L487.6 1455L490.1 1454.6L492.7 1454.6L495.2 1454.6L497.8 1454.2L500.4 1453.6L502.9 1453.2L505.5 1453L508 1452.7L510.6 1452.1L513.2 1451.2L515.7 1450.4L518.3 1449.8L520.9 1449.6L523.5 1449.5L526.1 1449.4L528.7 1449.6L531.3 1450.3L533.9 1450.9L536.5 1450.6L539.1 1449.7L541.7 1449.2L544.3 1449L546.9 1448.6L549.5 1448.1L552.1 1448.3L554.7 1448.8L557.3 1448.9L559.9 1448.9L562.5 1449.3L565 1449.4L567.5 1448.1L569.9 1445.9L572.2 1443.8L574.5 1442.5L576.8 1441.6L579.1 1440.6L581.4 1439.5L583.7 1438.6L586.1 1437.9L588.4 1436.9L590.8 1435.5L593.1 1434.2L595.4 1433.2L597.8 1432.3L600.1 1431L602.5 1429.5L605 1428.5L607.4 1428.3L610 1428.2L612.5 1427.7L615.1 1426.8L617.6 1426L620.2 1425.4L622.7 1424.9L625.3 1424.6L627.9 1424.3L630.5 1424.3L633 1424.5L635.6 1424.7L638.2 1424.3L640.8 1423.3L643.3 1422.2L645.9 1421.5L648.5 1420.8L651 1420.2L653.6 1420.1L656.1 1420.3L658.7 1420.1L661.2 1419.4L663.7 1418.8L666.2 1418.7L668.7 1418.1L671.2 1416.4L673.7 1414.3L676.2 1413.1L678.7 1412.8L681.1 1412.5L683.6 1412L686.1 1411.6L688.6 1411.5L691 1410.7L693.5 1409.3L696 1408.2L698.5 1407.7L701 1407L703.5 1405.7L705.9 1404.3L708.4 1403.7L710.9 1403.7L713.4 1403.3L715.9 1402.5L718.4 1401.7L720.9 1401L723.4 1400.4L725.9 1399.4L728.4 1398.6L730.9 1397.8L733.4 1397.2L735.9 1396.5L738.4 1395.8L740.9 1395.1L743.4 1394.1L745.9 1393.2L748.3 1392.3L750.8 1391.6L753.3 1391.1L755.8 1390.8L758.3 1390.4L760.8 1389.6L763.3 1388.3L765.8 1387.3L768.3 1386.9L770.8 1386.6L773.3 1385.6L775.8 1384.1L778.3 1383.1L780.8 1382.8L783.3 1382.4L785.8 1381.7L788.2 1381.2L790.7 1380.9L793.2 1380.1L795.7 1378.7L798.2 1377.7L800.7 1377.4L803.2 1377.2L805.7 1376L808.2 1374.4L810.7 1373.5L813.2 1373.2L815.6 1372.7L818.1 1371.8L820.6 1371.1L823.1 1370.8L825.6 1370.4L828 1369.4L830.5 1368.3L833 1367.3L835.4 1366.3L837.9 1365.1L840.4 1363.9L842.8 1363.1L845.3 1362.5L847.7 1362L850.2 1361.3L852.6 1360.7L855.1 1360.1L857.5 1359.5L860 1358.6L862.4 1357.3L864.9 1355.5L867.3 1353.9L869.8 1353.1L872.2 1352.9L874.7 1352.6L877.1 1351.8L879.6 1350.9L882 1350.2L884.4 1349.4L886.9 1348.3L889.4 1347.2L891.8 1346.4L894.3 1345.6L896.7 1344.4L899.2 1343L901.6 1342.5L904.1 1342.6L906.6 1342.2L909 1340.8L911.5 1339.3L914 1338.4L916.4 1337.8L918.9 1336.9L921.3 1335.8L923.8 1335.4L926.3 1335.2L928.7 1334.6L931.2 1333.4L933.6 1332.2L936.1 1331.3L938.5 1330.1L941 1328.6L943.4 1327.4L945.8 1326.9L948.3 1326.7L950.7 1326.2L953.1 1325.3L955.6 1324.5L958 1323.8L960.4 1322.9L962.8 1321.6L965.3 1319.9L967.7 1318.2L970.1 1316.8L972.5 1316L974.9 1315.7L977.3 1315.5L979.7 1314.9L982.1 1314L984.5 1313L986.9 1311.7L989.3 1310.3L991.7 1309L994.1 1307.9L996.5 1306.9L998.8 1305.5L1001.2 1304.1L1003.6 1303.1L1005.9 1302.7L1008.3 1302.2L1010.6 1301L1013 1299.5L1015.3 1298.2L1017.6 1297.2L1020 1296L1022.3 1294.5L1024.6 1293.1L1026.9 1292.1L1029.1 1291.1L1031.4 1289.8L1033.7 1288.2L1035.9 1286.8L1038.2 1285.7L1040.4 1284.5L1042.7 1283.1L1044.9 1281.6L1047.2 1280.3L1049.4 1279.3L1051.6 1278.1L1053.8 1276.5L1056 1274.9L1058.1 1273.4L1060.3 1272L1062.5 1270.6L1064.6 1269.1L1066.8 1267.6L1069 1266.1L1071.1 1264.6L1073.3 1263.2L1075.5 1261.8L1077.6 1260.5L1079.8 1259.3L1082 1257.9L1084.1 1256.4L1086.3 1254.9L1088.4 1253.3L1090.6 1251.7L1092.8 1250.3L1094.9 1248.9L1097.2 1247.7L1099.4 1246.4L1101.7 1245L1103.9 1243.5L1106.1 1242.1L1108.3 1241L1110.6 1240L1112.9 1239.1L1115.3 1238.3L1117.9 1238.2L1120.5 1238.5L1123.1 1238.6L1125.7 1238.7L1128.2 1239.1L1130.7 1240.1L1133.1 1241.2L1135.5 1242L1137.9 1242.4L1140.5 1242.8L1143.1 1243.1L1145.7 1243.1L1148.3 1242.9L1150.9 1243L1153.5 1243L1156.1 1242.1L1158.6 1240.7L1161 1239.4L1163.3 1238.5L1165.7 1237.8L1168.2 1237.6L1170.8 1237.9L1173.4 1238.2L1176 1238.4L1178.6 1238.5L1181.2 1239L1183.6 1240.4L1185.6 1242.2L1187.5 1244L1189.3 1245.7L1191.1 1247.5L1192.9 1249.3L1194.8 1251.1L1196.7 1253.1L1198.6 1255.1L1200.4 1257.1L1202.2 1259L1203.9 1260.9L1205.7 1262.7L1207.5 1264.5L1209.3 1266.3L1211.1 1268.1L1213 1269.9L1214.9 1271.6L1216.9 1273.2L1219 1274.7L1221.1 1276.2L1223.3 1277.7L1225.5 1278.9L1227.7 1280.1L1230 1281.3L1232.2 1282.6L1234.5 1284L1236.7 1285.2L1238.9 1286.6L1241.1 1288.2L1243.2 1290L1245.3 1291.8L1247.4 1293.4L1249.4 1294.9L1251.4 1296.4L1253.4 1298L1255.5 1299.6L1257.6 1300.9L1259.8 1301.9L1262 1303.1L1264.2 1304.6L1266.4 1306.1L1268.7 1307.3L1271.2 1307.8L1273.8 1307.7L1276.3 1307.2L1278.8 1306.2L1281.3 1305L1283.8 1304.3L1286.4 1304.3L1289 1304.9L1291.5 1305.6L1293.9 1306.5L1296.3 1307.8L1298.6 1309.3L1300.8 1311.2L1302.8 1313.2L1304.6 1315.2L1306.2 1317.2L1307.9 1319.1L1309.5 1321.1L1311.1 1323L1312.8 1324.9L1314.5 1326.7L1316.3 1328.3L1318.3 1329.8L1320.5 1330.8L1322.9 1331.8L1325.4 1332.6L1327.9 1333.3L1330.4 1334.1L1332.9 1334.9L1335.4 1335.7L1337.9 1336.4L1340.4 1336.9L1342.9 1337.7L1345.3 1338.8L1347.7 1340.1L1350 1341.3L1352.2 1342.5L1354.3 1344.1L1356.4 1345.8L1358.4 1347.6L1360.4 1349.2L1362.4 1350.8L1364.4 1352.3L1366.5 1354.1L1368.5 1355.9L1370.5 1357.6L1372.5 1359.3L1374.5 1360.9L1376.5 1362.7L1378.4 1364.5L1380.4 1366.1L1382.3 1367.6L1384.2 1369.2L1386.1 1370.9L1388 1372.8L1389.9 1374.8L1391.8 1376.7L1393.7 1378.5L1395.6 1380.2L1397.4 1382L1399.3 1383.8L1401.2 1385.7L1403 1387.6L1404.9 1389.5L1406.8 1391.3L1408.6 1393.1L1410.4 1394.9L1412.3 1396.7L1414 1398.6L1415.8 1400.5L1417.5 1402.4L1419.2 1404.4L1420.8 1406.6L1422.4 1408.8L1423.9 1411L1425.3 1413.2L1426.7 1415.4L1428.1 1417.6L1429.5 1419.8L1430.9 1422.1L1432.3 1424.3L1433.6 1426.5L1435.1 1428.7L1436.5 1430.9L1438 1433L1439.5 1435.1L1441.1 1437.1L1442.6 1439.1L1444.2 1441.1L1445.7 1443.1L1447.4 1445.1L1449 1447L1450.7 1448.8L1452.5 1450.5L1454.4 1451.9L1456.5 1453.5L1458.6 1455.2L1460.8 1456.9L1463 1458.4L1465.2 1459.6L1467.5 1460.8L1469.9 1461.9L1472.3 1462.8L1474.7 1463.4L1477.1 1464L1479.5 1464.9L1482 1465.7L1484.5 1466.3L1487 1466.9L1489.5 1468L1492 1469.3L1494.5 1470.4L1497 1471L1499.4 1471.6L1501.8 1472.4L1504.2 1473.4L1506.6 1474.4L1508.9 1475.6L1511.2 1477L1513.4 1478.4L1515.7 1479.8L1517.9 1481.2L1520.1 1482.6L1522.2 1484.1L1524.4 1485.7L1526.5 1487.2L1528.6 1488.7L1530.7 1490.1L1532.8 1491.7L1534.8 1493.4L1536.8 1495.2L1538.7 1497L1540.6 1498.9L1542.5 1500.6L1544.4 1502.4L1546.3 1504.1L1548.2 1505.8L1550.1 1507.6L1552 1509.3L1554 1510.9L1556 1512.5L1558 1514.1L1560 1515.9L1562 1517.7L1564.1 1519.5L1566.1 1521.1L1568.2 1522.7L1570.2 1524.2L1572.3 1525.8L1574.3 1527.3L1576.3 1528.7L1578.3 1530.2L1580.2 1532L1582.2 1534L1584 1536L1585.8 1538L1587.6 1539.9L1589.3 1541.8L1591 1543.8L1592.8 1545.9L1594.5 1548L1596.4 1549.9L1598.3 1551.5L1600.3 1552.8L1602.4 1553.9L1604.6 1555L1606.9 1556L1609.2 1556.9L1611.6 1557.8L1614.1 1559.1L1616.6 1560.2L1619.1 1560.5L1621.7 1559.8L1624.1 1558.5L1626.3 1557.1L1628.4 1555.4L1630.2 1552.7L1631.5 1550.2L1632.7 1547.7L1633.8 1545.2L1634.8 1542.8L1635.7 1540.3L1636.7 1538L1637.7 1535.5L1638.7 1533L1639.6 1530.5L1640.4 1528L1641.3 1525.5L1642.1 1523L1642.9 1520.5L1643.6 1518.1L1644.4 1515.6L1645.2 1513.1L1646 1510.6L1646.7 1508.2L1647.5 1505.7L1648.3 1503.2L1649.1 1500.8L1649.9 1498.3L1650.7 1495.8L1651.5 1493.3L1652.3 1490.9L1653.1 1488.4L1653.9 1485.9L1654.6 1483.3L1655.4 1480.8L1656.1 1478.3L1656.8 1475.8L1657.5 1473.2L1658.2 1470.7L1658.8 1468.1L1659.5 1465.6L1660.1 1463L1660.8 1460.5L1661.4 1458L1662 1455.4L1662.6 1452.9L1663.2 1450.3L1663.8 1447.7L1664.4 1445.1L1665 1442.4L1665.6 1439.7L1666.2 1436.9L1666.8 1434.2L1667.4 1431.3L1668 1428.5L1668.6 1425.6L1669.2 1422.7L1669.8 1419.7L1670.4 1416.8L1671 1413.7L1671.6 1410.6L1672.2 1407.5L1672.8 1404.3L1673.4 1401L1674 1397.7L1674.6 1394.3L1675.2 1390.9L1675.8 1387.4L1676.4 1383.9L1677 1380.3L1677.6 1376.7L1678.2 1373L1678.8 1369.3L1679.4 1365.6L1680 1361.9L1680.6 1358.1L1681.2 1354.2L1681.8 1350.2L1682.4 1346L1683 1341.7L1683.6 1337.4L1684.2 1333L1684.8 1328.6L1685.4 1324.2L1686 1319.8L1686.6 1315.5L1687.2 1311.3L1687.8 1307.3L1688.4 1303.4L1689 1299.3L1689.6 1294.9L1690.2 1290.5L1690.8 1286.5L1691.4 1283.2L1692 1280.9L1692.9 1279.3L1694.4 1277.8L1696.7 1279.8L1697.8 1282.6L1698.6 1285.2L1699.4 1288.4L1700 1292L1700.6 1296.4L1701.2 1301.2L1701.8 1306.4L1702.4 1311.7L1703 1317L1703.6 1321.8L1704.2 1326.3L1704.8 1330.6L1705.4 1334.9L1706 1339.1L1706.6 1343.3L1707.2 1347.5L1707.8 1351.7L1708.4 1356L1709 1360.5L1709.6 1365L1710.2 1369.7L1710.8 1374.8L1711.4 1380.4L1712 1386.3L1712.6 1392.4L1713.2 1398.3L1713.8 1404L1714.4 1409.3L1715 1413.8L1715.6 1417.4L1716.2 1420.7L1716.8 1423.9L1717.4 1426.8L1718 1429.5L1718.6 1432L1719.3 1434.3L1720.1 1436.5L1721.1 1438.3L1722.6 1440L1724.5 1441.4L1726.7 1442.8L1728.8 1444.7L1730.6 1447L1732.1 1449.3L1733.4 1451.7L1734.6 1454L1735.7 1456.4L1736.8 1458.8L1737.8 1461.2L1738.9 1463.5L1740 1465.9L1741.1 1468.1L1742.3 1470.5L1743.4 1472.8L1744.6 1475.1L1745.8 1477.4L1747 1479.7L1748.1 1482.1L1749.3 1484.4L1750.5 1486.8L1751.6 1489.1L1752.8 1491.5L1753.9 1493.9L1755 1496.2L1756.2 1498.5L1757.3 1500.8L1758.5 1503.1L1759.7 1505.5L1760.8 1507.9L1761.9 1510.2L1763 1512.7L1764 1515.1L1765 1517.6L1765.9 1520.1L1766.7 1523L1767.3 1525.7L1767.9 1528.5L1768.5 1531.2L1769.1 1533.6L1769.8 1535.8L1770.6 1537.2L1772.7 1537.7L1775.2 1538.2L1777.8 1539.1L1779.8 1542.2L1781 1544.6L1781.3 1545.3"/>
<path class="crv" stroke="#0000ff" d="M204 1257.3L206.6 1257L209.1 1256.7L211.7 1256.4L214.3 1256L216.9 1255.5L219.4 1255.1L222 1254.6L224.6 1254.2L227.1 1253.8L229.7 1253.4L232.3 1253L234.8 1252.5L237.4 1252.2L240 1251.8L242.5 1251.5L245.1 1251L247.7 1250.6L250.2 1250.1L252.8 1249.7L255.4 1249.3L257.9 1248.8L260.5 1248.4L263.1 1248L265.6 1247.5L268.2 1247L270.7 1246.5L273.3 1246.1L275.9 1245.8L278.4 1245.6L281 1245.2L283.6 1244.7L286.1 1244.1L288.7 1243.5L291.2 1242.9L293.8 1242.4L296.4 1242L298.9 1241.8L301.5 1241.4L304 1240.9L306.6 1240.4L309.2 1240L311.7 1239.6L314.3 1239.1L316.8 1238.6L319.4 1238.1L322 1237.6L324.5 1237L327.1 1236.4L329.6 1235.9L332.2 1235.6L334.7 1235.3L337.3 1234.9L339.8 1234.4L342.4 1233.9L344.9 1233.4L347.5 1232.8L350 1232.1L352.6 1231.3L355.1 1230.7L357.7 1230.3L360.2 1229.8L362.8 1229.3L365.3 1229L367.8 1228.8L370.4 1228.3L372.9 1227.6L375.5 1226.7L378 1226.1L380.6 1225.6L383.1 1225.1L385.6 1224.5L388.2 1223.9L390.7 1223.5L393.3 1223L395.8 1222.3L398.4 1221.7L400.9 1221.6L403.5 1221.7L406 1221.4L408.6 1220.6L411.2 1219.7L413.7 1218.9L416.3 1218.3L418.8 1217.6L421.4 1217.1L424 1217.1L426.5 1217.2L429.1 1217.1L431.7 1216.5L434.2 1216L436.8 1215.8L439.4 1215.4L441.9 1214.6L444.5 1213.6L447.1 1212.9L449.6 1212.6L452.2 1212.4L454.8 1212.2L457.3 1212.2L459.9 1212.4L462.5 1212.4L465.1 1211.6L467.6 1210.5L470.2 1209.9L472.8 1209.9L475.4 1209.7L477.9 1209.1L480.5 1208.6L483.1 1208.5L485.7 1208.3L488.3 1207.8L490.8 1207.3L493.4 1207.4L496 1207.8L498.6 1207.5L501.1 1206.5L503.7 1205.5L506.3 1205.3L508.9 1205.2L511.5 1204.7L514.1 1204.1L516.6 1204.1L519.2 1204.6L521.8 1204.6L524.4 1204.3L527 1204.2L529.6 1204.6L532.2 1204.7L534.8 1203.9L537.4 1203.1L540 1203.2L542.6 1203.8L545.2 1204.2L547.8 1204.1L550.4 1204L553 1204.4L555.6 1204.4L558.2 1203.9L560.8 1203.6L563.4 1203.8L566 1203.7L568.5 1202.7L570.9 1201L573.3 1199.5L575.7 1198.6L578 1198.1L580.4 1197.3L582.8 1196.4L585.2 1195.6L587.6 1194.8L590 1193.6L592.3 1191.7L594.7 1189.8L597.1 1188.7L599.4 1188.3L601.8 1187.9L604.2 1187L606.6 1185.8L609 1184.9L611.4 1184.2L613.9 1183.1L616.3 1181.7L618.7 1180.4L621.2 1179.8L623.6 1179.5L626.1 1178.7L628.6 1177.5L631 1176.5L633.5 1176.2L636 1175.8L638.4 1174.8L640.9 1173.4L643.4 1172.4L645.9 1172.1L648.4 1171.7L650.9 1170.7L653.4 1169.8L655.9 1169.3L658.4 1168.9L660.9 1168L663.4 1166.6L665.9 1165.8L668.4 1165.9L671 1166.1L673.5 1165.6L676 1164.4L678.6 1163.5L681.1 1162.9L683.6 1162.1L686.1 1160.9L688.7 1160.2L691.2 1160.4L693.7 1160.6L696.3 1160L698.8 1158.8L701.3 1158.1L703.9 1158L706.4 1157.6L708.9 1156.5L711.5 1155.3L714 1154.7L716.5 1154.4L719.1 1153.8L721.6 1153L724.2 1152.8L726.7 1153.1L729.2 1153L731.8 1151.9L734.3 1150.5L736.8 1149.8L739.4 1149.6L741.9 1149.1L744.4 1148.1L747 1147.4L749.5 1147.2L752 1146.9L754.6 1145.9L757.1 1144.9L759.6 1144.7L762.1 1144.9L764.7 1144.4L767.2 1143L769.6 1141.5L772.1 1140.5L774.5 1139.8L776.9 1138.9L779.4 1137.7L781.8 1136.9L784.2 1136.6L786.7 1136.1L789.1 1135L791.6 1133.7L794.1 1133.1L796.7 1133.2L799.2 1133.1L801.8 1132.4L804.4 1131.9L807 1132.8L809.4 1133.8L812 1133.8L814.5 1132.4L816.7 1130.9L818.7 1129.3L820.5 1127.7L822.4 1126.1L824.4 1124.5L826.5 1123L828.8 1122L831.2 1121.3L833.5 1120.4L835.9 1118.7L838.3 1116.9L840.6 1115.7L843.1 1115.1L845.5 1114.5L847.9 1113.8L850.4 1113.1L852.8 1112.8L855.3 1112.3L857.7 1110.9L860.2 1109.1L862.7 1107.8L865.1 1107.4L867.6 1107.4L870.1 1106.9L872.6 1105.9L875 1104.9L877.5 1104.2L880 1103.1L882.4 1101.8L884.9 1100.7L887.3 1100.3L889.8 1100.1L892.2 1099.5L894.6 1098.2L897.1 1096.8L899.5 1095.9L901.9 1095.2L904.4 1094.1L906.8 1092.7L909.2 1091.7L911.6 1091L914.1 1090.4L916.5 1089.4L918.9 1088.3L921.4 1087.6L923.8 1087.3L926.2 1086.5L928.6 1085.1L931.1 1083.6L933.5 1082.5L935.9 1081.9L938.4 1081.2L940.8 1080.1L943.3 1079.1L945.7 1078.4L948.2 1077.8L950.6 1076.9L953.1 1075.7L955.5 1075L958 1074.7L960.5 1074.3L962.9 1073.2L965.4 1071.7L967.9 1070.6L970.4 1069.9L972.9 1069.3L975.3 1068.5L977.8 1067.7L980.3 1067.2L982.8 1066.8L985.3 1066L987.7 1064.9L990.2 1064.1L992.7 1063.7L995.2 1063.2L997.7 1062.1L1000.1 1060.7L1002.6 1059.5L1005.1 1058.8L1007.5 1058.1L1010 1057.3L1012.4 1056.6L1014.9 1056L1017.3 1055.5L1019.8 1054.5L1022.2 1053.3L1024.6 1052.2L1027.1 1051.4L1029.5 1050.6L1031.9 1049.5L1034.3 1048.1L1036.8 1046.9L1039.2 1046L1041.6 1045.2L1044 1044.5L1046.4 1043.7L1048.8 1043L1051.2 1042.2L1053.6 1041.1L1056 1039.6L1058.3 1038.1L1060.7 1036.8L1063 1035.8L1065.4 1034.8L1067.7 1033.7L1070.1 1032.7L1072.4 1031.6L1074.7 1030.6L1077 1029.4L1079.3 1028.1L1081.6 1026.8L1083.9 1025.5L1086.2 1024.3L1088.5 1023.1L1090.7 1021.6L1092.9 1020.1L1095.2 1018.7L1097.4 1017.4L1099.6 1016L1101.8 1014.6L1104 1013.1L1106.1 1011.7L1108.3 1010.3L1110.4 1008.9L1112.5 1007.4L1114.5 1005.7L1116.5 1004.1L1118.5 1002.4L1120.5 1000.7L1122.4 998.8L1124.4 996.9L1126.3 994.9L1128.1 992.9L1130 991.1L1131.8 989.3L1133.6 987.6L1135.4 985.8L1137.2 984L1139 982.2L1140.7 980.3L1142.5 978.4L1144.3 976.5L1146 974.5L1147.8 972.5L1149.6 970.5L1151.3 968.5L1153.1 966.7L1154.9 964.9L1156.7 963.1L1158.6 961.3L1160.4 959.4L1162.3 957.6L1164.2 955.9L1166.1 954.1L1168 952.4L1169.9 950.6L1171.8 948.9L1173.6 947.1L1175.5 945.4L1177.4 943.7L1179.4 941.9L1181.3 940.1L1183.4 938.4L1185.4 936.8L1187.6 935.4L1189.8 934.2L1192.1 933.2L1194.5 932.2L1196.8 931.2L1199.2 930.2L1201.6 929.3L1204 928.5L1206.6 927.9L1209.1 927.7L1211.7 927.8L1214.3 928.4L1216.8 929.2L1219.2 930.3L1221.5 931.5L1223.7 932.9L1226 934.4L1228.2 936.1L1230.2 937.9L1232 939.8L1233.8 941.8L1235.5 943.7L1237.1 945.8L1238.7 947.8L1240.3 949.8L1242 951.8L1243.6 953.8L1245.3 955.8L1247 957.8L1248.6 959.8L1250.3 961.8L1251.9 963.8L1253.6 965.8L1255.2 967.8L1256.8 969.9L1258.4 972L1260 974.1L1261.6 976.1L1263.2 978.2L1264.8 980.3L1266.5 982.3L1268.1 984.3L1269.7 986.3L1271.3 988.3L1273 990.3L1274.5 992.3L1276.1 994.3L1277.8 996.3L1279.4 998.3L1281.2 1000.1L1283 1002L1284.9 1003.8L1286.8 1005.6L1288.7 1007.4L1290.6 1009.1L1292.6 1010.8L1294.5 1012.5L1296.5 1014.1L1298.6 1015.7L1300.6 1017.3L1302.6 1018.8L1304.7 1020.2L1306.8 1021.7L1308.9 1023.2L1310.9 1024.9L1313 1026.6L1315.1 1028.4L1317.2 1030L1319.3 1031.6L1321.4 1033L1323.5 1034.4L1325.6 1035.7L1327.7 1037.1L1329.9 1038.4L1332 1040L1334.2 1041.6L1336.3 1043.2L1338.5 1044.7L1340.6 1046.1L1342.8 1047.5L1344.9 1049L1347 1050.5L1349.1 1052.1L1351.2 1053.8L1353.2 1055.4L1355.2 1057.1L1357.2 1058.9L1359.2 1060.6L1361.1 1062.3L1363.1 1063.9L1365 1065.6L1366.9 1067.3L1368.8 1069.1L1370.7 1071L1372.6 1072.8L1374.5 1074.6L1376.4 1076.4L1378.3 1078.2L1380.2 1080L1382.1 1081.8L1384.1 1083.6L1386 1085.3L1387.9 1087L1389.8 1088.6L1391.7 1090.4L1393.6 1092.1L1395.5 1093.8L1397.4 1095.5L1399.4 1097.2L1401.3 1099L1403.3 1100.8L1405.3 1102.7L1407.2 1104.5L1409.2 1106.1L1411.2 1107.7L1413.2 1109.2L1415.2 1110.9L1417.2 1112.5L1419.2 1114.2L1421.2 1115.7L1423.3 1117.3L1425.3 1119L1427.3 1120.6L1429.3 1122.2L1431.4 1123.7L1433.5 1125.1L1435.6 1126.7L1437.7 1128.4L1439.8 1130.1L1441.9 1131.9L1444 1133.5L1446 1135L1448 1136.6L1449.9 1138.3L1451.7 1140.1L1453.5 1142.1L1455.2 1144.1L1456.9 1146.1L1458.4 1148.3L1460 1150.5L1461.4 1152.8L1462.9 1155.1L1464.3 1157.4L1465.6 1159.6L1467 1161.9L1468.3 1164.2L1469.5 1166.5L1470.6 1168.9L1471.7 1171.3L1472.8 1173.8L1473.8 1176.2L1474.8 1178.6L1475.9 1181L1476.9 1183.4L1477.9 1185.8L1478.9 1188.1L1480 1190.4L1481.1 1192.7L1482.2 1194.9L1483.4 1197.2L1484.7 1199.4L1485.9 1201.7L1487.2 1204L1488.5 1206.2L1489.8 1208.4L1491.1 1210.6L1492.5 1212.8L1493.8 1215L1495.2 1217.2L1496.7 1219.3L1498.2 1221.5L1499.7 1223.6L1501.2 1225.7L1502.8 1227.7L1504.3 1229.6L1506 1231.6L1507.6 1233.5L1509.4 1235.4L1511.3 1237.2L1513.3 1238.7L1515.4 1240.1L1517.5 1241.4L1519.7 1242.7L1522 1244L1524.2 1245.2L1526.5 1246.4L1528.7 1247.8L1531 1249.3L1533.3 1250.9L1535.5 1252.1L1537.9 1253.1L1540.2 1254.1L1542.5 1255.2L1544.8 1256.4L1547.1 1257.6L1549.4 1258.7L1551.6 1260.1L1553.8 1261.6L1556 1263.3L1558.1 1264.9L1560.2 1266.5L1562.2 1268.1L1564.2 1269.9L1566.1 1271.7L1568 1273.6L1569.9 1275.3L1571.8 1277L1573.7 1278.7L1575.5 1280.5L1577.4 1282.4L1579.2 1284.3L1581.1 1286.2L1582.9 1288.1L1584.7 1289.9L1586.5 1291.7L1588.3 1293.6L1590.1 1295.6L1591.9 1297.5L1593.6 1299.3L1595.4 1301.2L1597.1 1303.1L1598.8 1305.2L1600.5 1307.3L1602.2 1309.4L1603.9 1311.5L1605.5 1313.5L1607.2 1315.4L1608.8 1317.4L1610.3 1319.5L1611.9 1321.6L1613.4 1323.7L1614.8 1325.9L1616.4 1327.9L1617.9 1330L1619.5 1331.9L1621.1 1333.9L1622.9 1335.9L1624.6 1338.1L1626.2 1340.1L1627.9 1342.1L1629.6 1343.8L1631.4 1345.3L1633.5 1346.5L1635.8 1347.2L1638.4 1346.8L1640.8 1345.4L1643 1343.6L1644.9 1341.7L1646.7 1339L1647.9 1336.4L1648.9 1333.9L1649.8 1331.4L1650.7 1328.9L1651.5 1326.4L1652.4 1324L1653.3 1321.4L1654.1 1318.8L1654.8 1316.3L1655.5 1313.8L1656.2 1311.2L1656.9 1308.7L1657.6 1306.1L1658.2 1303.6L1658.9 1301.1L1659.5 1298.6L1660.1 1296L1660.7 1293.5L1661.3 1291L1662 1288.5L1662.6 1285.9L1663.2 1283.4L1663.8 1280.9L1664.4 1278.3L1665 1275.8L1665.6 1273.3L1666.2 1270.7L1666.8 1268.1L1667.4 1265.5L1668 1262.9L1668.6 1260.2L1669.2 1257.5L1669.8 1254.7L1670.4 1251.9L1671 1249L1671.6 1246L1672.2 1243L1672.8 1239.8L1673.4 1236.6L1674 1233.2L1674.6 1229.6L1675.2 1225.9L1675.8 1222L1676.4 1218.1L1677 1214.2L1677.6 1210.2L1678.2 1206.1L1678.8 1202.1L1679.4 1198.1L1680 1194.2L1680.6 1190.3L1681.2 1186.5L1681.8 1182.8L1682.4 1179.2L1683 1175.5L1683.6 1171.9L1684.2 1168.3L1684.8 1164.6L1685.4 1160.9L1686 1157.1L1686.6 1153.2L1687.2 1149.2L1687.8 1145.1L1688.4 1140.8L1689 1136.4L1689.6 1131.7L1690.2 1126.8L1690.8 1121.8L1691.4 1116.7L1692 1111.5L1692.6 1106.4L1693.2 1101.4L1693.8 1096.4L1694.4 1091L1695 1085.3L1695.6 1079.8L1696.2 1074.6L1696.8 1070.3L1697.4 1067L1698 1064.6L1698.7 1062.2L1699.4 1059.9L1700.3 1058.1L1701.9 1058.7L1703.2 1062L1704 1064.7L1704.7 1067.4L1705.4 1070L1706 1073.4L1706.6 1077.9L1707.2 1083.2L1707.8 1089.1L1708.4 1095.3L1709 1101.5L1709.6 1108.2L1710.2 1115.7L1710.8 1123.7L1711.4 1131.9L1712 1140L1712.6 1147.5L1713.2 1154.3L1713.8 1161.2L1714.4 1168.1L1715 1174.9L1715.6 1181.4L1716.2 1187.3L1716.8 1192.6L1717.4 1196.9L1718 1200.2L1718.6 1202.6L1719.2 1205L1719.9 1207.4L1720.7 1209.7L1721.6 1211.9L1722.6 1214.2L1723.7 1216.4L1724.9 1218.7L1726.1 1221L1727.4 1223.5L1728.5 1226L1729.5 1228.6L1730.4 1231.2L1731.2 1233.7L1732 1236.2L1732.8 1238.7L1733.5 1241.2L1734.3 1243.7L1735 1246.2L1735.7 1248.7L1736.4 1251.1L1737.2 1253.6L1737.9 1256L1738.7 1258.5L1739.5 1260.9L1740.3 1263.3L1741.2 1265.8L1742 1268.2L1742.9 1270.6L1743.8 1273L1744.7 1275.4L1745.6 1277.8L1746.6 1280.1L1747.6 1282.5L1748.6 1285L1749.6 1287.5L1750.5 1290L1751.4 1292.4L1752.4 1294.7L1753.5 1296.8L1754.9 1298.4L1757.2 1296.2L1758.3 1293.6L1759.4 1291.6L1760.8 1290.8L1763 1295.6L1763.8 1298.1L1764.5 1300.6L1765.3 1302.8L1766.4 1304.8L1767.6 1307L1768.9 1309.1L1770.2 1311.1L1771.7 1312.6L1773.7 1313.2L1776 1308.5L1776.7 1305.9L1777.3 1303.2L1777.9 1299.6L1778.5 1294.3L1779.1 1287.4L1779.7 1279.4L1780.3 1270.4L1780.9 1260.7L1781.3 1254.5"/>
<path class="crv" stroke="#008080" d="M204 1095.9L206.6 1095.6L209.1 1095.2L211.7 1094.7L214.2 1094.2L216.8 1093.7L219.4 1093.3L221.9 1092.9L224.5 1092.4L227.1 1091.9L229.6 1091.5L232.2 1091.2L234.7 1090.7L237.3 1090.3L239.9 1089.8L242.4 1089.3L245 1088.8L247.5 1088.3L250.1 1087.8L252.7 1087.4L255.2 1087L257.8 1086.5L260.3 1086.1L262.9 1085.7L265.4 1085.3L268 1084.7L270.6 1084.1L273.1 1083.6L275.7 1083.3L278.2 1083L280.8 1082.5L283.4 1081.8L285.9 1081.2L288.5 1080.8L291 1080.4L293.6 1079.9L296.1 1079.4L298.7 1079.1L301.2 1078.8L303.8 1078.3L306.4 1077.6L308.9 1076.9L311.5 1076.5L314 1076.1L316.6 1075.7L319.1 1075.1L321.7 1074.5L324.2 1074.1L326.8 1073.8L329.4 1073.4L331.9 1073L334.5 1072.5L337 1071.9L339.6 1071.2L342.1 1070.4L344.6 1069.7L347.2 1069.3L349.7 1068.9L352.3 1068.6L354.8 1068.3L357.4 1067.9L359.9 1067.5L362.5 1066.7L365 1065.9L367.6 1065.1L370.1 1064.5L372.6 1064L375.2 1063.5L377.7 1063L380.3 1062.8L382.8 1062.7L385.4 1062.3L387.9 1061.4L390.5 1060.5L393 1059.9L395.6 1059.7L398.1 1059.3L400.7 1058.5L403.2 1057.7L405.8 1057.4L408.3 1057.3L410.9 1057L413.5 1056.4L416 1055.9L418.6 1055.7L421.1 1055.3L423.7 1054.6L426.3 1053.7L428.8 1053.3L431.4 1053.4L434 1053.4L436.5 1052.9L439.1 1051.9L441.7 1051.1L444.2 1050.6L446.8 1050.5L449.4 1050.5L452 1050.6L454.5 1050.5L457.1 1050L459.7 1049.1L462.2 1048.2L464.8 1047.6L467.4 1047.3L470 1047.1L472.5 1046.9L475.1 1046.9L477.7 1047L480.3 1046.8L482.9 1046.3L485.4 1045.8L488 1045.6L490.6 1045.2L493.2 1044.3L495.8 1043.1L498.3 1042.7L500.9 1043.2L503.5 1043.7L506.1 1043.4L508.6 1042.7L511.2 1042.5L513.8 1042.7L516.4 1042.4L519 1041.4L521.6 1040.4L524.2 1040.4L526.8 1040.9L529.4 1041.3L532 1041.3L534.6 1041.4L537.2 1041.8L539.8 1041.9L542.4 1041.3L545 1040.5L547.6 1040.4L550.2 1041L552.8 1041.7L555.4 1041.7L558 1041.3L560.6 1041L563.2 1040.6L565.7 1040.1L568.2 1039.5L570.7 1038.8L573.1 1037.9L575.4 1036.6L577.8 1035.1L580.1 1033.8L582.5 1033L585 1032.4L587.4 1031.7L589.8 1030.7L592.2 1029.6L594.6 1028.6L597.1 1027.6L599.5 1026.3L601.9 1025.1L604.4 1024.5L606.8 1024.4L609.3 1024.3L611.8 1023.3L614.3 1021.8L616.9 1020.9L619.4 1020.7L621.9 1020.6L624.4 1019.9L627 1018.8L629.5 1018.1L632.1 1018L634.6 1017.8L637.2 1017L639.7 1016L642.2 1015.6L644.8 1015.6L647.3 1015.3L649.9 1014.4L652.4 1013.3L654.9 1012.6L657.4 1012.1L659.9 1011.4L662.4 1010.3L664.9 1009.4L667.4 1009.1L669.9 1009L672.4 1008.6L674.9 1007.6L677.4 1006.5L679.9 1005.3L682.3 1004.3L684.8 1003.4L687.3 1002.9L689.8 1002.7L692.3 1002.3L694.8 1001.4L697.4 1000.3L699.9 999.7L702.4 999.6L705 999.4L707.5 998.8L710.1 998L712.6 997.5L715.2 997L717.7 996.2L720.3 995.2L722.8 994.9L725.4 995.3L728 995.5L730.5 994.7L733.1 993.3L735.7 992.6L738.2 992.8L740.8 993.2L743.4 992.8L745.9 991.9L748.5 991.1L751 990.7L753.6 990.1L756.2 989.1L758.7 988.4L761.3 988.5L763.8 989L766.4 988.9L768.9 988.2L771.5 987.2L774 986.4L776.5 985.7L779 984.6L781.5 983.3L784.1 982.5L786.6 982.3L789.2 982.4L791.7 982.6L794.3 982.7L796.9 982.6L799.5 982.3L802.1 981.9L804.6 982.1L807.1 982.8L809.6 983.5L812.1 983.3L814.7 982.2L817 981L819.2 980L821.3 979L823.4 978.1L825.6 977.1L828 975.8L830.4 974.5L832.9 973.3L835.3 971.9L837.7 970.4L840.2 969.3L842.7 969.2L845.1 969.6L847.6 969.4L850.1 968.1L852.6 966.5L855.1 965.5L857.6 965.3L860.1 965L862.6 964.2L865.1 963.2L867.6 962.5L870.1 962L872.6 961.3L875.2 960.3L877.7 959.5L880.2 959.2L882.7 959.1L885.2 958.5L887.8 957.5L890.3 956.7L892.8 956.3L895.3 956L897.9 955.4L900.4 954.6L902.9 953.7L905.5 952.8L908 952.1L910.5 951.5L913.1 951.4L915.6 951.4L918.2 951.2L920.7 950.6L923.3 950L925.8 949.5L928.4 948.9L930.9 947.7L933.4 946.3L936 945.4L938.5 945.5L941.1 945.8L943.6 945.6L946.1 945L948.6 944.5L951.2 944L953.7 943L956.2 941.5L958.7 940.1L961.2 939.6L963.7 939.8L966.2 939.6L968.7 938.6L971.3 937.3L973.8 936.6L976.3 936.6L978.7 936.3L981.2 935.4L983.7 934.2L986.2 933.1L988.7 932.3L991.2 931.4L993.7 930.4L996.1 929.8L998.6 929.5L1001.1 929.1L1003.6 928.3L1006 927L1008.5 925.7L1010.9 924.8L1013.4 924.1L1015.8 923.5L1018.3 922.7L1020.7 921.9L1023.2 921L1025.6 919.8L1028 918.7L1030.5 917.7L1032.9 917L1035.3 916.2L1037.7 915.2L1040.1 914.1L1042.6 913.1L1045 912.3L1047.4 911.4L1049.7 910.3L1052.1 909L1054.5 907.9L1056.9 907L1059.3 906.1L1061.6 905L1064 903.7L1066.4 902.5L1068.7 901.5L1071.1 900.5L1073.4 899.3L1075.7 898L1078 896.7L1080.3 895.7L1082.6 894.7L1084.9 893.6L1087.2 892.1L1089.5 890.4L1091.7 889L1093.9 887.7L1096.2 886.5L1098.4 885.2L1100.6 883.8L1102.7 882.3L1104.9 880.8L1107 879.2L1109 877.6L1111 875.9L1113 874.2L1115 872.6L1117 871L1119 869.5L1121.1 867.9L1123.2 866.2L1125.3 864.6L1127.5 863.1L1129.7 861.9L1132 860.8L1134.3 859.9L1136.7 858.9L1139 857.9L1141.4 856.8L1143.7 855.4L1146 853.9L1148.3 852.4L1150.5 851.1L1152.7 849.8L1154.8 848.2L1156.7 846.4L1158.6 844.4L1160.4 842.5L1162.2 840.5L1163.9 838.6L1165.6 836.7L1167.3 834.7L1168.9 832.6L1170.6 830.6L1172.3 828.6L1174 826.5L1175.5 824.4L1177 822.3L1178.5 820.2L1180 818.1L1181.5 816L1183 813.9L1184.7 812L1186.6 810.5L1188.8 809.6L1191.1 808.6L1193.6 807.5L1196 806.6L1198.6 806.2L1201.1 806.5L1203.7 807L1206.3 807.2L1208.9 807.4L1211.5 807.8L1214 808.4L1216.6 808.8L1219.1 808.9L1221.7 809.1L1224.3 809.5L1226.8 810.1L1229.4 810.9L1231.9 811.9L1234.3 813.7L1236.2 815.8L1237.9 817.9L1239.5 820L1241 822L1242.5 823.9L1244.1 825.8L1245.7 827.7L1247.3 829.7L1249 831.7L1250.5 833.8L1252.1 835.9L1253.7 838.1L1255.2 840.3L1256.8 842.6L1258.3 844.8L1259.9 846.9L1261.4 849L1262.9 851L1264.5 853.2L1265.9 855.4L1267.2 857.7L1268.5 859.9L1269.8 862.1L1271.2 864.3L1272.7 866.2L1274.4 867.6L1276.7 868L1279.2 868.1L1281.8 868.5L1284.4 869.1L1287 869.6L1289.5 870.4L1291.9 872L1293.9 873.9L1295.7 875.8L1297.5 877.7L1299.3 879.4L1301.1 881L1302.9 882.8L1304.7 884.8L1306.4 886.9L1308.1 889L1309.7 891.1L1311.4 893.1L1313.1 895L1314.8 896.8L1316.6 898.6L1318.5 900.3L1320.5 902L1322.6 903.4L1324.8 904.7L1327 905.8L1329.3 907.2L1331.5 908.7L1333.7 910.2L1335.9 911.7L1338 913L1340.2 914.4L1342.3 915.8L1344.4 917.3L1346.5 918.8L1348.6 920.4L1350.6 922.1L1352.6 923.9L1354.6 925.8L1356.6 927.6L1358.6 929.3L1360.5 931L1362.4 932.7L1364.4 934.4L1366.3 936L1368.2 937.7L1370.1 939.4L1372 941.2L1373.9 943L1375.8 944.9L1377.7 946.8L1379.5 948.7L1381.4 950.5L1383.2 952.2L1385 954.1L1386.9 956.1L1388.7 958.1L1390.5 960.1L1392.3 961.9L1394.1 963.6L1396 965.1L1397.9 966.7L1399.8 968.4L1401.7 970.1L1403.7 971.9L1405.7 973.6L1407.7 975.2L1409.8 976.9L1411.8 978.7L1413.9 980.5L1416 982.1L1418 983.4L1420.1 984.8L1422.1 986.2L1424.1 987.9L1426.2 989.7L1428.1 991.5L1430.1 993.2L1432.2 994.7L1434.2 996.2L1436.2 997.9L1438.2 999.7L1440.2 1001.5L1442.1 1003.3L1444 1005L1445.9 1006.8L1447.8 1008.7L1449.6 1010.6L1451.4 1012.6L1453.1 1014.6L1454.7 1016.7L1456.3 1018.8L1457.8 1020.9L1459.3 1023.1L1460.7 1025.3L1462.1 1027.6L1463.5 1029.8L1464.8 1032.1L1466.1 1034.3L1467.4 1036.6L1468.7 1039L1469.8 1041.4L1470.9 1043.8L1472 1046.2L1473.1 1048.6L1474.1 1051L1475.1 1053.4L1476.2 1055.8L1477.2 1058.2L1478.2 1060.5L1479.3 1062.9L1480.3 1065.2L1481.5 1067.5L1482.6 1069.7L1483.8 1072L1485.1 1074.3L1486.3 1076.6L1487.5 1078.9L1488.8 1081.1L1490 1083.3L1491.3 1085.6L1492.7 1087.8L1494.1 1090L1495.5 1092.1L1497 1094.1L1498.6 1096L1500.3 1097.9L1502 1099.8L1503.6 1101.7L1505.4 1103.6L1507.2 1105.5L1509.1 1107.3L1511.2 1108.8L1513.5 1109.5L1516 1109.7L1518.6 1110L1521.2 1110.5L1523.7 1111.2L1526.2 1111.8L1528.7 1112.7L1531.1 1113.8L1533.5 1114.9L1535.9 1115.8L1538.3 1116.5L1540.7 1117.5L1543 1118.9L1545.4 1120.4L1547.7 1121.7L1550 1122.8L1552.3 1123.9L1554.6 1125L1556.8 1126.3L1559 1127.7L1561.2 1129.1L1563.4 1130.6L1565.5 1132.2L1567.6 1133.9L1569.6 1135.6L1571.6 1137.3L1573.6 1139L1575.6 1140.7L1577.5 1142.5L1579.4 1144.3L1581.3 1146.1L1583.2 1147.8L1585.1 1149.5L1587 1151.3L1588.9 1153.1L1590.7 1155L1592.5 1156.8L1594.3 1158.7L1596.1 1160.6L1597.9 1162.5L1599.7 1164.5L1601.4 1166.6L1603.1 1168.6L1604.8 1170.6L1606.4 1172.6L1608 1174.7L1609.6 1176.8L1611 1179L1612.5 1181.3L1613.9 1183.5L1615.3 1185.7L1616.6 1187.9L1618.1 1190L1619.5 1192L1621 1194L1622.5 1196L1624.2 1197.9L1625.9 1200L1627.7 1202.1L1629.4 1204L1631.2 1205.7L1633.1 1207.2L1635.2 1208.4L1637.4 1209.5L1639.8 1210.5L1642.3 1211.4L1644.8 1211.9L1647.4 1212.2L1650 1210.7L1651.8 1208.4L1653.3 1206L1654.6 1203.7L1656 1201.1L1657 1198.4L1658 1195.8L1658.8 1193.2L1659.5 1190.7L1660.3 1188.1L1660.9 1185.6L1661.6 1183L1662.2 1180.5L1662.9 1178L1663.5 1175.4L1664.1 1172.9L1664.7 1170.4L1665.3 1167.9L1665.9 1165.3L1666.5 1162.7L1667.1 1160L1667.7 1157.2L1668.3 1154.3L1668.9 1151.3L1669.5 1148.3L1670.1 1145.2L1670.7 1142L1671.3 1138.8L1671.9 1135.5L1672.5 1132.2L1673.1 1128.9L1673.7 1125.5L1674.3 1122.2L1674.9 1118.8L1675.5 1115.4L1676.1 1111.9L1676.7 1108.4L1677.3 1104.9L1677.9 1101.3L1678.5 1097.7L1679.1 1094L1679.7 1090.3L1680.3 1086.5L1680.9 1082.6L1681.5 1078.7L1682.1 1074.7L1682.7 1070.6L1683.3 1066.5L1683.9 1062.3L1684.5 1057.9L1685.1 1053.4L1685.7 1048.8L1686.3 1044.2L1686.9 1039.5L1687.5 1034.7L1688.1 1029.9L1688.7 1025.1L1689.3 1020.4L1689.9 1015.7L1690.5 1011L1691.1 1006.4L1691.7 1001.5L1692.3 996.3L1692.9 991L1693.5 985.6L1694.1 980.3L1694.7 975.2L1695.3 970.5L1695.9 966.3L1696.5 962.7L1697.1 959.9L1697.8 957.8L1698.6 955.4L1699.5 953.3L1700.5 951.6L1702.3 951.8L1703.9 954.9L1704.8 957.5L1705.6 960.2L1706.2 963.1L1706.8 966.8L1707.4 971L1708 975.7L1708.6 980.6L1709.2 985.8L1709.8 990.9L1710.4 995.9L1711 1001.4L1711.6 1007.4L1712.2 1013.8L1712.8 1020.3L1713.4 1026.8L1714 1033.1L1714.6 1039L1715.2 1044.2L1715.8 1048.8L1716.4 1053.2L1717 1057.6L1717.6 1061.8L1718.2 1065.7L1718.8 1069.2L1719.4 1072.4L1720 1075L1720.7 1077.2L1721.5 1079.5L1722.5 1081.8L1723.6 1083.9L1724.9 1086L1726.3 1088.1L1727.8 1090.4L1729.1 1092.9L1730.2 1095.5L1731.1 1098.1L1732 1100.7L1732.7 1103.2L1733.5 1105.8L1734.2 1108.3L1734.9 1110.8L1735.6 1113.3L1736.3 1115.8L1737 1118.3L1737.7 1120.7L1738.4 1123.1L1739.2 1125.5L1740 1127.9L1740.8 1130.3L1741.7 1132.7L1742.6 1135.1L1743.6 1137.5L1744.5 1139.9L1745.5 1142.4L1746.5 1144.8L1747.4 1147.2L1748.4 1149.6L1749.4 1152L1750.4 1154.5L1751.3 1157L1752.2 1159.6L1753 1162L1753.8 1164.5L1754.6 1166.9L1755.5 1169.2L1756.5 1171.4L1757.7 1173.2L1759.5 1174.4L1762 1175L1764.5 1176L1766.4 1181.9L1767 1184.9L1767.6 1188.1L1768.2 1191.3L1768.8 1194.3L1769.4 1196.9L1770 1199.1L1770.9 1200.6L1773.1 1201.5L1775.6 1201.9L1778 1203.7L1779.4 1206.9L1780.2 1209.6L1781 1212.2L1781.3 1213.3"/>
<path class="crv" stroke="#ff0000" d="M204 958.2L206.6 957.9L209.2 957.6L211.7 956.8L214.3 956.3L216.9 956.4L219.5 956.2L222 955.8L224.6 955.6L227.2 955.2L229.8 954.8L232.3 954.6L234.9 954L237.5 953.4L240.1 953.1L242.7 953L245.2 952.7L247.8 952.4L250.4 951.9L253 951.2L255.5 951.2L258.1 951.4L260.7 950.9L263.3 950.4L265.9 950.2L268.4 949.6L271 949L273.6 949L276.2 948.6L278.7 948L281.3 947.9L283.9 948L286.5 947.4L289.1 946.8L291.6 946.6L294.2 946.3L296.8 946.1L299.4 946.2L302 945.8L304.5 945L307.1 944.5L309.7 944L312.3 943.7L314.9 943.7L317.4 943.6L320 943.4L322.6 943.4L325.2 942.9L327.8 941.9L330.3 941.5L332.9 941.5L335.5 941.2L338.1 941.2L340.7 941.4L343.3 940.4L345.8 939.4L348.4 939.3L351 938.8L353.6 938.3L356.2 939.1L358.7 939.7L361.3 939L363.9 938.3L366.5 937.6L369.1 936.2L371.7 935.9L374.2 936.8L376.8 936.7L379.4 936.1L382 935.9L384.6 935.4L387.1 934.8L389.7 934.8L392.3 934.5L394.9 934.3L397.5 935L400.1 934.9L402.7 933.6L405.2 932.6L407.8 931.7L410.4 931L413 932.3L415.6 933.5L418.2 932.1L420.7 930.9L423.3 931.2L425.9 930.7L428.5 930.3L431.1 931.3L433.7 931L436.3 929.6L438.8 929.9L441.4 929.7L444 927.4L446.6 926.7L449.2 927.9L451.8 928.7L454.4 929.4L457 929.9L459.5 928.2L462.1 926.2L464.7 926.2L467.3 926.2L469.9 926.3L472.5 926.9L475.1 926.5L477.7 925.6L480.2 925.5L482.8 924.4L485.4 923.1L488 924.2L490.6 925.6L493.2 925.2L495.8 925.4L498.4 925.3L500.9 922.9L503.5 921.7L506.1 922.5L508.7 921.8L511.3 921L513.9 922.7L516.5 923.2L519.1 921.6L521.6 921.4L524.2 921.5L526.8 920.5L529.4 920.9L532 921.7L534.6 920.4L537.2 919.2L539.8 919.5L542.3 919.2L544.9 918.5L547.5 918.1L550 917.1L552.6 916.8L555.1 917.7L557.6 917.4L560.1 915.8L562.6 915L565.1 914.2L567.6 912.8L570.1 912.7L572.7 912.6L575.2 910.3L577.7 909.1L580.3 910.5L582.8 910.5L585.4 909.1L587.9 909.2L590.5 909L593.1 907.7L595.6 908.3L598.2 909L600.8 906.7L603.3 904.8L605.9 905.3L608.5 905.3L611 904.8L613.6 905.2L616.2 904.6L618.7 903.4L621.3 903.7L623.9 903.6L626.4 902.5L629 902.2L631.5 902.3L634.1 901.7L636.7 901.6L639.2 900.7L641.7 898L644.3 896.8L646.8 897.5L649.3 897.2L651.8 896.9L654.3 897.8L656.8 897.2L659.3 894.7L661.8 893.7L664.3 893.2L666.8 891.3L669.4 891.2L672 893.4L674.6 893.2L677.1 891.4L679.7 891.1L682.3 890.2L684.9 889L687.5 890.1L690.1 891.4L692.7 891.2L695.3 891.6L697.9 891.8L700.5 890L703.1 888.5L705.7 888.3L708.3 888.7L710.9 890.7L713.4 892.5L716 891.8L718.5 892.6L720.3 894.4L722.4 895.1L725 894.1L727.4 893.9L729.7 894L732.2 892.9L734.7 893.4L736.7 895.6L738.9 896.8L741.5 894.3L743.7 892.4L745.7 891.6L747.9 891.4L750.2 890.6L752.7 890.6L755.1 890.3L757.6 887.5L760 884.9L762.4 884.8L764.7 884.6L766.8 882.9L768.7 881L770.6 879.1L772.4 877L774.1 874.5L775.8 872L777.6 870L779.4 868.4L781.3 866.8L783.3 865.1L785.4 864.4L787.7 864.6L790 864.1L792.4 862.8L794.8 861.4L797.2 859L799.6 856.3L802.1 856.1L804.5 856.8L806.9 856L809.3 854.8L811.7 854.5L814.1 852.9L816.5 850.1L818.8 849.2L821.2 849.5L823.6 848.4L826 847.5L828.4 848.1L830.8 847.4L833.2 844.4L835.5 842.2L837.9 841.4L840.3 840L842.7 838.7L845.1 838.9L847.4 838.6L849.8 837.2L852.2 836.2L854.6 835.7L856.9 834L859.3 832.1L861.7 831.3L864 830.6L866.4 829.6L868.8 829.1L871.1 827.7L873.5 825.2L875.9 823.6L878.2 823.6L880.6 823L883 821.7L885.3 821.2L887.7 820.4L890 818.3L892.4 817.3L894.8 817.6L897.1 816.2L899.5 813.4L901.8 812.2L904.2 812.2L906.5 810.9L908.9 809.2L911.2 808.6L913.6 807.3L915.9 805.2L918.3 804.7L920.6 805.5L923 804.6L925.3 802.4L927.7 801L930 799.9L932.4 798.3L934.7 797.2L937.1 796.4L939.4 794.6L941.8 793L944.1 792.6L946.4 792.2L948.8 791L951.1 790L953.4 788.9L955.8 786.9L958.1 785.5L960.5 785.7L962.8 784.9L965.2 782.8L967.6 781.7L969.9 781.4L972.3 779.6L974.6 777.3L977 776.7L979.3 775.9L981.7 774L984 773.4L986.3 774.1L988.7 773.3L991 771L993.3 769.6L995.6 768.5L997.8 766.3L1000.1 764.2L1002.4 763.4L1004.6 762.6L1006.8 761.3L1009 760.1L1011.1 759.1L1013.3 757.3L1015.3 755L1017.4 753L1019.5 751.6L1021.5 750.3L1023.5 748.9L1025.6 747.8L1027.6 746.5L1029.6 744.6L1031.7 742.4L1033.7 740.7L1035.8 739.3L1037.9 737.4L1040 735.4L1042.2 734.1L1044.4 733.4L1046.6 732.4L1048.9 731.2L1051.2 730.6L1053.5 729.5L1055.9 727.3L1058.2 725.7L1060.6 725.5L1063 724.9L1065.3 723.5L1067.7 722.3L1070 721.1L1072.3 719.4L1074.6 717.8L1076.9 716.9L1079.1 715.9L1081.3 714.3L1083.4 712.8L1085.6 711.6L1087.7 710.3L1089.7 708.6L1091.8 706.8L1093.9 705L1096 703.2L1098 701.4L1100.1 700.2L1102.2 699.2L1104.3 697.8L1106.4 696L1108.5 694.2L1110.5 692.4L1112.6 690.4L1114.7 688.7L1116.7 687.6L1118.8 686.6L1120.9 685.2L1123 683.5L1125.1 682.1L1127.2 680.9L1129.3 679L1131.4 676.8L1133.6 675.1L1135.8 674L1138 672.5L1140.1 671.1L1142.3 670.3L1144.5 669.4L1146.6 667.6L1148.8 665.5L1150.9 663.9L1153 662.4L1155 660.7L1157 659L1159 657.5L1160.9 656.1L1162.8 654.3L1164.6 652.2L1166.4 650.2L1168.2 648.2L1170 646.1L1171.7 643.9L1173.5 641.8L1175.3 640.1L1177.1 638.5L1179 637L1180.9 635.4L1182.8 633.9L1184.8 632.2L1186.7 630.3L1188.6 628.3L1190.6 626.8L1192.8 625.9L1195.2 625.1L1197.7 624.2L1200.3 624.1L1202.9 624.2L1205.5 623.4L1208.1 623.2L1210.6 623L1213.2 622L1215.8 621.8L1218.3 622.1L1220.7 621.1L1223 619.2L1225.4 618L1227.8 617.5L1230.4 617.2L1233 617.5L1235.6 618.3L1238.2 618.2L1240.8 618.3L1243.2 620L1245.3 621.9L1247.2 623.7L1249 625.6L1250.7 627.7L1252.4 629.7L1254 631.7L1255.7 633.7L1257.4 635.9L1259.1 638.1L1260.6 640.3L1262.1 642.3L1263.5 644.3L1264.9 646.4L1266.3 648.5L1267.7 650.7L1269.2 652.7L1270.7 654.6L1272.3 656.5L1274.1 658.4L1276.2 659.9L1278.7 660.1L1281.3 660.1L1283.8 661L1286.4 661.2L1289 660.7L1291.6 661.4L1294.1 662.7L1296.4 663.9L1298.5 665.6L1300.4 667.7L1302.3 669.7L1304.1 671.2L1305.9 673.1L1307.4 675.3L1308.9 677.7L1310.3 680.1L1311.6 682.4L1312.8 684.6L1314 686.9L1315.2 689.3L1316.4 691.7L1317.6 694.1L1318.8 696.5L1319.9 698.9L1321 701.5L1321.8 704.1L1322.7 706.5L1323.5 708.9L1324.4 711.2L1325.4 713.4L1326.7 715.1L1329.2 714.5L1331.8 713.8L1334.4 713.6L1337 713.4L1339.6 713.8L1341.9 716.1L1343.6 718.3L1345.1 720.5L1346.6 722.7L1348 724.9L1349.4 727.2L1350.8 729.2L1352.4 731.1L1354 732.9L1355.6 735L1357.1 737.2L1358.7 739.6L1360.2 741.8L1361.7 743.9L1363.2 746L1364.6 748.1L1366.1 750.4L1367.5 752.6L1368.9 754.6L1370.3 756.7L1371.6 758.8L1373 761.1L1374.3 763.5L1375.6 765.9L1376.9 768.2L1378.2 770.4L1379.5 772.6L1380.7 774.8L1382 777.2L1383.3 779.6L1384.6 782L1385.8 784.3L1387.1 786.5L1388.4 788.6L1389.7 790.9L1390.9 793.2L1392.2 795.5L1393.4 797.7L1394.7 799.9L1395.9 802.1L1397.2 804.3L1398.5 806.6L1399.8 808.9L1401.2 811.2L1402.6 813.4L1404 815.5L1405.4 817.5L1406.9 819.5L1408.3 821.6L1409.8 823.7L1411.3 825.8L1412.8 827.9L1414.4 830.2L1415.9 832.5L1417.5 834.7L1419 836.8L1420.6 838.7L1422.2 840.7L1423.7 842.7L1425.3 844.8L1426.9 846.8L1428.5 848.6L1430.2 850.5L1431.8 852.6L1433.5 854.6L1435.2 856.5L1437 858.4L1438.7 860.4L1440.4 862.7L1442.1 864.8L1443.8 866.6L1445.5 868.2L1447.1 870.1L1448.7 872.2L1450.3 874.5L1451.9 876.7L1453.4 878.8L1454.9 881L1456.4 883.4L1457.9 885.8L1459.4 888L1460.8 890L1462.2 892L1463.6 894L1465 896.2L1466.3 898.5L1467.6 900.8L1468.8 903.1L1470.1 905.3L1471.3 907.7L1472.4 910.1L1473.5 912.6L1474.5 915.2L1475.5 917.7L1476.5 920.2L1477.5 922.6L1478.5 925L1479.5 927.4L1480.4 929.8L1481.4 932.2L1482.4 934.6L1483.4 937L1484.4 939.3L1485.4 941.6L1486.5 943.9L1487.5 946.2L1488.6 948.6L1489.6 951L1490.7 953.4L1491.7 955.9L1492.8 958.3L1493.8 960.7L1494.9 963L1496 965.4L1497.1 967.7L1498.3 970L1499.4 972.3L1500.6 974.6L1501.9 976.8L1503.1 979L1504.3 981.2L1505.5 983.5L1506.7 985.7L1508 987.9L1509.3 990L1510.8 991.8L1512.4 993.5L1514.3 995.4L1516.5 997.4L1518.9 998.3L1521.3 998.8L1523.6 1000L1525.9 1001.2L1528.1 1002.1L1530.3 1003.6L1532.6 1005.5L1534.8 1006.9L1537.1 1007.5L1539.3 1008.6L1541.6 1010.3L1543.9 1011.5L1546.2 1012.3L1548.6 1013.7L1550.9 1015.3L1553.2 1016.5L1555.5 1017.8L1557.7 1019.5L1559.9 1020.6L1562.1 1021.4L1564.3 1022.6L1566.4 1024.4L1568.4 1026.3L1570.4 1028.2L1572.3 1030.2L1574.3 1032L1576.2 1033.5L1578.1 1034.9L1580 1036.6L1582 1038.6L1583.9 1040.5L1585.8 1042.2L1587.7 1044L1589.6 1046.1L1591.5 1048L1593.4 1049.6L1595.3 1051.2L1597.1 1053.1L1599 1055L1600.9 1056.5L1602.7 1057.8L1604.6 1059.5L1606.5 1061.7L1608.3 1064L1610.2 1065.9L1612 1067.7L1613.8 1069.7L1615.6 1071.7L1617.5 1073.4L1619.3 1074.9L1621.1 1076.5L1623 1078.5L1624.8 1080.6L1626.7 1082.4L1628.5 1084.1L1630.2 1086L1632 1088.1L1633.8 1090L1635.7 1091.5L1637.8 1092.7L1640 1093.8L1642.4 1094.8L1644.8 1095.4L1647.3 1096.2L1649.9 1096.5L1652.4 1095.2L1654.6 1093.5L1656.5 1091.7L1658.3 1089.7L1660 1087.6L1661.7 1085.2L1663.2 1082.9L1664.5 1080.5L1665.6 1078.1L1666.7 1075.6L1667.8 1073.1L1668.8 1070.6L1669.8 1068.2L1670.7 1065.8L1671.7 1063.3L1672.6 1060.9L1673.4 1058.4L1674.2 1055.8L1674.9 1053.3L1675.7 1050.7L1676.3 1048.1L1677 1045.5L1677.6 1042.9L1678.2 1040.4L1678.8 1037.7L1679.4 1034.9L1680 1031.9L1680.6 1028.8L1681.2 1025.5L1681.8 1022.1L1682.4 1018.5L1683 1014.7L1683.6 1010.8L1684.2 1006.7L1684.8 1002.5L1685.4 998.1L1686 993.6L1686.6 988.5L1687.2 982.9L1687.8 976.9L1688.4 970.6L1689 964.1L1689.6 957.5L1690.2 951.1L1690.8 944.8L1691.4 938.8L1692 932.9L1692.6 927L1693.2 921.2L1693.8 915.3L1694.4 909.4L1695 903.4L1695.6 897.4L1696.2 891.1L1696.8 884.4L1697.4 877.1L1698 869.5L1698.6 861.9L1699.2 854.5L1699.8 847.7L1700.4 841.6L1701 836.7L1701.6 832.9L1702.2 829.2L1702.8 825.8L1703.4 822.7L1704 820.2L1704.8 818.3L1706.3 820.1L1707 823.3L1707.6 826.5L1708.2 830.1L1708.8 833.9L1709.4 837.9L1710 842.9L1710.6 848.9L1711.2 855.6L1711.8 862.7L1712.4 870.1L1713 877.6L1713.6 884.9L1714.2 891.9L1714.8 899L1715.4 906.5L1716 914.3L1716.6 922.1L1717.2 929.6L1717.8 936.8L1718.4 943.2L1719 948.7L1719.6 953.3L1720.2 957.4L1720.8 961.2L1721.4 964.7L1722 968L1722.6 971L1723.2 973.8L1723.8 976.5L1724.4 978.9L1725.1 981.4L1725.7 983.7L1726.5 986.1L1727.3 988.5L1728.2 990.8L1729.1 993.2L1730.1 995.7L1730.9 998.3L1731.8 1000.8L1732.5 1003.5L1733.2 1006.1L1733.8 1008.7L1734.4 1011.4L1735 1014.3L1735.6 1017.2L1736.2 1020.2L1736.8 1023.3L1737.4 1026.4L1738 1029.4L1738.6 1032.4L1739.2 1035.3L1739.8 1038.1L1740.4 1040.8L1741 1043.3L1741.6 1045.7L1742.3 1048.1L1743.1 1050.3L1743.9 1052.6L1744.9 1054.8L1746 1057.1L1747.1 1059.5L1748.2 1062L1749.3 1064.5L1750.3 1067L1751.2 1069.7L1751.9 1072.4L1752.6 1074.9L1753.2 1077.5L1753.9 1080L1754.6 1082.4L1755.4 1084.8L1756.2 1087L1757.5 1088.7L1759.3 1089.7L1761.5 1090.4L1763.7 1092.6L1765.4 1096.8L1766 1099.8L1766.6 1103.2L1767.2 1106.8L1767.8 1110.1L1768.4 1112.9L1769 1114.9L1770 1115.3L1772.6 1115.9L1775.2 1116L1777.8 1117.7L1778.9 1120.6L1779.8 1123.3L1780.5 1125.9L1781.2 1128.4L1781.3 1128.6"/>
<path class="crv" stroke="#ff00ff" d="M204 658.7L206.6 658.5L209.1 658.2L211.7 657.8L214.2 657.3L216.8 656.9L219.4 656.4L221.9 655.9L224.5 655.4L227.1 655L229.6 654.6L232.2 654.1L234.8 653.7L237.3 653.3L239.9 653L242.4 652.5L245 651.9L247.6 651.6L250.1 651.2L252.7 650.8L255.3 650.2L257.8 649.8L260.4 649.4L263 648.9L265.5 648.4L268.1 648.1L270.6 647.9L273.2 647.5L275.8 646.9L278.3 646.4L280.9 645.9L283.5 645.5L286 645L288.6 644.7L291.2 644.4L293.7 643.9L296.3 643.4L298.9 643L301.4 642.7L304 642.4L306.6 641.8L309.1 641.2L311.7 640.8L314.3 640.5L316.8 640.1L319.4 639.7L322 639.2L324.5 638.8L327.1 638.4L329.6 638L332.2 637.8L334.8 637.3L337.3 636.6L339.9 635.9L342.5 635.7L345 635.7L347.6 635.3L350.2 634.7L352.8 634.1L355.3 633.8L357.9 633.5L360.5 633.3L363 632.9L365.6 632.3L368.2 631.5L370.7 630.9L373.3 630.8L375.9 631L378.4 630.7L381 630L383.6 629.5L386.2 629.2L388.7 628.8L391.3 628.3L393.9 627.8L396.4 627.6L399 627.2L401.6 626.8L404.2 626.5L406.7 626.3L409.3 625.8L411.9 625.3L414.5 625.1L417 625L419.6 624.6L422.2 623.7L424.8 623L427.3 622.9L429.9 622.9L432.5 622.6L435.1 622.3L437.6 622.1L440.2 621.8L442.8 621.2L445.4 620.6L447.9 620.3L450.5 619.9L453.1 619.2L455.7 618.8L458.2 618.9L460.8 619L463.4 618.4L465.9 617.7L468.5 617.2L471.1 617L473.7 616.5L476.2 615.9L478.8 615.7L481.4 615.6L484 615.1L486.5 614.3L489.1 614.2L491.7 614.6L494.3 614.7L496.9 614.3L499.5 613.8L502.1 613.2L504.6 612.4L507.2 612.1L509.8 612.7L512.4 613.5L515 613.2L517.6 612.1L520.2 611.7L522.8 612.4L525.4 613.1L528 612.9L530.6 612.1L533.2 611.4L535.8 611L538.4 611.2L541 612.3L543.6 613.3L546.2 613.2L548.8 612.4L551.4 612.2L554 612.9L556.6 613.5L559.2 613L561.8 612.4L564.4 612.1L566.9 611.8L569.4 611.1L571.8 610.1L574.2 609.1L576.6 607.9L578.9 606.6L581.3 605.5L583.6 604.8L586 604.1L588.5 602.7L590.9 600.8L593.2 599.5L595.6 599.1L598 598.8L600.4 598L602.8 596.8L605.2 595.8L607.7 595.1L610.2 594.2L612.7 593.2L615.2 592.3L617.7 591.7L620.2 591L622.7 590.3L625.2 590.2L627.8 590.2L630.3 589.6L632.9 588.3L635.4 587.5L637.9 587.4L640.5 587.3L643 586.5L645.6 585.5L648.1 584.9L650.7 584.6L653.2 584.1L655.8 583.9L658.4 584L660.9 583.9L663.5 583L666.1 582L668.6 581.5L671.2 581.2L673.8 580.7L676.3 580.2L678.9 580.1L681.5 580.2L684 579.7L686.6 578.9L689.2 578.7L691.7 578.8L694.3 578.2L696.9 577.1L699.4 576.2L702 576L704.6 575.8L707.1 575.4L709.7 575.1L712.2 574.9L714.8 574.3L717.3 573.4L719.9 572.9L722.4 572.6L724.9 571.9L727.5 570.7L730 569.9L732.6 570.1L735.1 570.2L737.7 569.5L740.2 568.3L742.7 567.7L745.3 567.6L747.8 567.4L750.4 567.1L752.9 566.4L755.5 565.3L758 563.9L760.6 563.3L763.2 564L765.7 564.8L768.3 564.3L770.8 562.8L773.4 561.7L775.9 561.5L778.5 561.3L781 560.6L783.6 559.9L786.1 559.3L788.7 558.9L791.3 558.6L793.8 558.9L796.4 559.1L799 558.6L801.6 557.7L804.2 557.5L806.8 558.2L809.4 558.5L812 557.8L814.6 556.7L817 555.7L819.3 554.7L821.6 553.6L823.8 552.5L826.2 551.9L828.6 551.2L831.1 550.1L833.5 548.7L836 547.8L838.5 547.1L841 546.4L843.5 545.4L846 545L848.5 545L851 544.7L853.5 543.6L856 542.4L858.6 541.9L861.1 541.6L863.6 540.9L866.1 539.8L868.7 539.1L871.2 538.5L873.7 537.9L876.2 537.4L878.7 537.3L881.3 537.2L883.8 536.2L886.3 534.8L888.8 533.8L891.3 533.3L893.8 532.8L896.3 532L898.8 531.4L901.3 531L903.8 530.3L906.3 529.2L908.8 528.3L911.3 528.2L913.8 528.2L916.4 527.3L918.9 525.8L921.4 524.5L923.9 523.6L926.4 523.1L928.9 522.9L931.4 523L933.9 522.7L936.4 521.5L938.9 520L941.4 519.2L943.9 519.2L946.4 518.8L948.9 517.5L951.5 516.2L954 515.7L956.5 515.7L959 515.5L961.5 515L964.1 514.3L966.6 513.3L969.1 512.3L971.7 511.8L974.2 511.9L976.7 511.6L979.3 510.2L981.8 508.7L984.3 508.3L986.9 508.7L989.4 508.7L991.9 508L994.4 507.1L997 506.2L999.5 505.3L1002 504.4L1004.5 503.8L1007 503.3L1009.5 502.5L1012 501.6L1014.5 501L1017 500.7L1019.4 500L1021.9 498.7L1024.3 497.3L1026.7 496.5L1029.2 495.8L1031.6 494.8L1034 493.6L1036.4 492.4L1038.8 491.4L1041.2 490.6L1043.5 489.7L1045.9 488.9L1048.3 488.1L1050.8 487L1053.2 485.7L1055.6 484.5L1058 483.6L1060.4 482.9L1062.8 482L1065.3 480.8L1067.7 479.9L1070.1 479.1L1072.5 478.2L1074.9 477.2L1077.3 476.2L1079.7 475.3L1082.1 474.3L1084.5 473.1L1086.9 471.9L1089.3 470.8L1091.7 469.8L1094.1 468.8L1096.4 467.7L1098.8 466.7L1101.1 465.7L1103.4 464.6L1105.7 463.3L1108.1 461.9L1110.4 460.6L1112.7 459.5L1115 458.3L1117.3 457L1119.6 455.7L1121.9 454.7L1124.2 453.6L1126.5 452.4L1128.8 451L1131.1 449.8L1133.4 448.7L1135.7 447.5L1138 446.3L1140.3 445L1142.6 443.7L1144.8 442.3L1147.1 440.8L1149.3 439.3L1151.5 438.1L1153.6 436.9L1155.8 435.5L1157.8 433.8L1159.8 431.9L1161.7 429.9L1163.6 428.1L1165.5 426.4L1167.4 424.6L1169.2 422.8L1171.1 420.9L1172.9 419L1174.8 417.2L1176.7 415.5L1178.7 413.9L1180.7 412.4L1182.7 410.9L1184.8 409.5L1186.8 407.9L1188.9 406.1L1191 404.3L1193.1 402.8L1195.3 401.7L1197.6 400.8L1199.9 399.6L1202.2 398.2L1204.6 396.9L1207 395.9L1209.3 395L1211.7 394.1L1214 393.1L1216.3 391.9L1218.6 390.4L1220.8 388.6L1222.8 386.6L1224.7 384.7L1226.5 382.9L1228.3 381.3L1230.2 379.7L1232.2 378.3L1234.5 377.3L1237.1 377.2L1239.7 377.4L1242.3 377.3L1244.9 377.1L1247.5 377.1L1250.1 377.6L1252.5 378.7L1254.8 380L1256.9 381.5L1259 383.1L1261.1 384.8L1263.1 386.7L1264.9 388.8L1266.6 390.9L1268.2 393L1269.8 395.1L1271.4 397.1L1273.1 399L1274.8 400.7L1276.6 402.2L1278.5 403.7L1280.7 405.1L1283 406.4L1285.4 407.3L1287.8 408L1290.3 408.8L1292.8 409.8L1295.2 410.8L1297.6 411.9L1299.9 413.3L1302.1 415L1304 417L1305.7 419.1L1307.2 421.3L1308.6 423.5L1309.9 425.8L1311.2 428.1L1312.5 430.4L1313.7 432.7L1315 434.9L1316.3 437.1L1317.6 439.3L1319 441.4L1320.5 443.5L1322.1 445.5L1323.8 447.2L1325.9 448.4L1328.3 449L1330.8 449.5L1333.4 450.2L1335.9 450.6L1338.5 450.8L1341 451.3L1343.5 452.3L1346 453.5L1348.3 454.9L1350.5 456.4L1352.6 458L1354.7 459.6L1356.6 461.2L1358.5 462.9L1360.4 464.7L1362.4 466.6L1364.3 468.5L1366.2 470.1L1368.3 471.6L1370.3 473L1372.3 474.5L1374.3 476.4L1376.3 478.3L1378.2 480.3L1380.2 482L1382.2 483.5L1384.2 485.1L1386.2 486.6L1388.1 488.2L1390.1 489.9L1392.1 491.6L1394.1 493.4L1396.1 495.1L1398.1 496.8L1400.1 498.3L1402.1 499.8L1404.1 501.6L1406.1 503.5L1408.1 505.3L1410.1 507L1412.1 508.5L1414.1 509.9L1416.1 511.5L1418.1 513.1L1420.2 514.8L1422.3 516.3L1424.3 517.8L1426.5 519.2L1428.6 520.7L1430.8 522.1L1433.1 523.5L1435.3 524.9L1437.6 526.3L1439.8 527.5L1442.1 528.5L1444.4 529.5L1446.6 530.9L1448.8 532.5L1451 534.2L1453.1 535.7L1455.2 537.1L1457.3 538.6L1459.3 540.3L1461.3 542.1L1463.3 543.9L1465.3 545.7L1467.1 547.5L1469 549.4L1470.8 551.3L1472.5 553.3L1474.2 555.3L1475.7 557.3L1477.3 559.4L1478.8 561.6L1480.3 563.8L1481.8 565.9L1483.3 568.1L1484.8 570.1L1486.4 572.2L1487.9 574.4L1489.4 576.5L1491 578.7L1492.5 580.8L1494 582.9L1495.6 584.9L1497.1 586.8L1498.7 588.8L1500.3 590.8L1502 592.9L1503.6 594.9L1505.2 597L1506.8 599L1508.5 600.9L1510.2 602.7L1512.1 604.5L1514.2 605.9L1516.4 607L1518.8 608L1521.2 608.9L1523.6 609.9L1526.1 610.7L1528.5 611.4L1531 612.3L1533.4 613.2L1535.9 614L1538.3 614.7L1540.8 615.6L1543.3 616.7L1545.7 617.8L1548.2 618.5L1550.6 619.2L1553.1 620L1555.5 621L1557.9 621.9L1560.3 622.7L1562.8 623.7L1565.2 624.8L1567.5 626L1569.9 627.1L1572.3 628.3L1574.6 629.6L1577 630.7L1579.3 631.6L1581.6 632.6L1583.8 634.1L1586 635.7L1588.2 637.3L1590.4 638.7L1592.5 639.9L1594.6 641.4L1596.7 643.1L1598.8 644.9L1600.8 646.6L1602.9 648.3L1605 649.7L1607.1 651.1L1609.2 652.4L1611.3 653.8L1613.3 655.4L1615.4 657.2L1617.5 659.1L1619.5 660.8L1621.6 662.1L1623.7 663.4L1625.8 664.8L1627.9 666.5L1630 668.3L1632.1 670L1634.2 671.5L1636.3 672.8L1638.4 674.1L1640.7 675.2L1643 676.1L1645.3 677.1L1647.7 678.2L1650.3 678.7L1652.9 678.5L1655.4 677.8L1657.9 677L1660.3 676.2L1662.7 674.5L1664.7 672.4L1666.5 670.2L1668.1 668L1669.6 665.9L1671 663.7L1672.4 661.5L1673.7 659.2L1675 656.8L1676.2 654.4L1677.2 651.9L1678.2 649.4L1679.2 646.9L1680.1 644.5L1681 642L1681.8 639.5L1682.6 637L1683.4 634.4L1684.2 631.9L1684.9 629.3L1685.6 626.7L1686.2 624.1L1686.8 621.5L1687.4 618.9L1688 616.2L1688.6 613.3L1689.2 610.4L1689.8 607.4L1690.4 604.4L1691 601.2L1691.6 597.9L1692.2 594.3L1692.8 590.4L1693.4 586.4L1694 582.3L1694.6 578.1L1695.2 573.8L1695.8 569.4L1696.4 565.1L1697 560.8L1697.6 556.7L1698.2 552.1L1698.8 547.2L1699.4 542.1L1700 537L1700.6 532.3L1701.2 528L1701.8 524.5L1702.4 522L1703.2 520L1704.1 517.8L1705.3 515.8L1706.9 515L1709.1 519.7L1709.8 522.3L1710.5 525L1711.1 528.7L1711.7 533.6L1712.3 539.5L1712.9 545.9L1713.5 552.4L1714.1 558.8L1714.7 564.5L1715.3 569.4L1715.9 573.3L1716.5 577L1717.1 580.6L1717.7 584.1L1718.3 587.2L1718.9 590.1L1719.5 592.7L1720.2 595L1721 597.1L1721.9 599.3L1723 601.4L1724.3 603.4L1725.8 605.5L1727.3 607.6L1728.8 610L1730.1 612.5L1731.2 615.1L1732.2 617.6L1733.1 620.1L1734 622.6L1734.9 625.1L1735.7 627.6L1736.6 630L1737.4 632.4L1738.3 634.9L1739.2 637.3L1740.1 639.6L1741 641.9L1742.1 644.2L1743.2 646.4L1744.4 648.6L1745.8 650.7L1747.2 652.9L1748.6 655.1L1749.9 657.4L1751.1 660.1L1752.1 662.7L1753 665.2L1753.9 667.6L1754.7 670L1755.7 672.3L1756.7 674.4L1758 675.9L1760.2 676.7L1762.6 677.5L1765.1 679.5L1766.4 682.7L1767.2 685.3L1768 687.8L1768.7 690.2L1769.6 692.4L1770.7 694.1L1772.8 694.9L1775.2 695.5L1777.7 696L1780.2 696.4L1781.3 696.5"/>
<path class="crv" stroke="#ff8000" d="M204 448.4L206.6 448.2L209.2 447.9L211.8 447.6L214.3 447.2L216.9 446.8L219.5 446.6L222.1 446.3L224.7 446.1L227.3 445.8L229.8 445.7L232.4 445.5L235 445.1L237.6 444.7L240.2 444.3L242.8 444L245.3 443.7L247.9 443.5L250.5 443.3L253.1 443.1L255.7 442.8L258.3 442.5L260.9 442.2L263.4 441.9L266 441.6L268.6 441.3L271.2 441L273.8 440.7L276.4 440.4L279 440.1L281.5 439.9L284.1 439.7L286.7 439.5L289.3 439.2L291.9 438.9L294.5 438.5L297 438.2L299.6 437.9L302.2 437.6L304.8 437.3L307.4 437.1L310 436.9L312.6 436.7L315.1 436.5L317.7 436.2L320.3 435.9L322.9 435.6L325.5 435.3L328.1 434.9L330.7 434.6L333.3 434.3L335.8 434.2L338.4 434.1L341 433.9L343.6 433.6L346.2 433.2L348.8 432.9L351.4 432.6L353.9 432.2L356.5 431.9L359.1 431.7L361.7 431.5L364.3 431.3L366.9 430.8L369.4 430.4L372 430.3L374.6 430.3L377.2 430.1L379.8 429.6L382.4 429.1L384.9 428.7L387.5 428.5L390.1 428L392.7 427.6L395.3 427.5L397.9 427.5L400.4 427.4L403 426.9L405.6 426.3L408.2 425.9L410.8 425.7L413.3 425.4L415.9 425L418.5 424.6L421.1 424.4L423.7 424.1L426.2 423.8L428.8 423.4L431.4 423.2L434 422.9L436.6 422.5L439.1 422.1L441.7 421.7L444.3 421.4L446.9 421.1L449.4 420.7L452 420.3L454.6 420L457.2 419.5L459.7 418.9L462.3 418.6L464.9 418.5L467.4 418.4L470 417.9L472.6 417.2L475.1 416.6L477.7 416.3L480.3 415.9L482.9 415.5L485.4 415.2L488 415.2L490.6 415.2L493.2 414.8L495.8 414L498.4 413.5L500.9 413.6L503.5 413.8L506.1 413.6L508.7 413L511.3 412.6L513.9 412.4L516.5 412.2L519.1 411.9L521.7 411.8L524.3 412L526.9 412.2L529.5 412.2L532.1 411.7L534.7 411.3L537.3 411.1L539.9 411.3L542.5 411.4L545.1 411.4L547.7 411.3L550.3 411.5L552.9 411.7L555.5 411.9L558.1 411.8L560.7 411.6L563.3 411.5L565.9 411.3L568.4 410.8L571 409.9L573.5 409.2L576 408.7L578.5 408.3L580.9 407.6L583.4 406.6L585.9 405.7L588.4 405.1L590.9 404.5L593.4 403.8L595.9 402.9L598.4 402.1L600.9 401.4L603.4 400.6L606 399.9L608.5 399.4L611 399.2L613.5 399L616.1 398.5L618.6 397.8L621.2 396.9L623.7 396L626.3 395.2L628.8 394.6L631.4 394.5L633.9 394.4L636.5 394.2L639 393.5L641.6 392.8L644.1 392.3L646.7 391.9L649.2 391.2L651.7 390.4L654.3 389.9L656.8 389.6L659.4 389L661.9 388.1L664.4 387.3L667 387L669.5 387L672 386.6L674.6 385.6L677.1 384.7L679.6 384.2L682.2 383.9L684.7 383.1L687.3 382.3L689.8 381.8L692.4 381.8L694.9 381.7L697.5 381.1L700.1 380.5L702.7 380.4L705.2 380.4L707.8 380.1L710.4 379.3L713 378.7L715.6 378.5L718.2 378.6L720.8 378.6L723.4 378.5L726 378.4L728.5 378.3L731.1 377.9L733.7 377.4L736.3 377L738.9 376.8L741.5 376.7L744.1 376.6L746.6 376.2L749.2 375.7L751.8 375L754.3 374.4L756.9 374L759.4 373.7L762 373.3L764.5 372.6L767 371.7L769.5 370.9L772 370.1L774.5 369.3L777 368.5L779.5 367.8L781.9 367.2L784.4 366.4L786.8 365.5L789.2 364.3L791.7 363.1L794 361.9L796.3 360.9L798.6 359.9L801 359.1L803.6 358.7L806.2 358.6L808.8 358.7L811.4 358.8L814 358.6L816.5 357.5L818.8 355.9L820.9 354.3L822.9 352.9L825.1 351.7L827.4 350.6L829.8 349.5L832.2 348.6L834.6 347.8L837 347L839.5 345.9L841.9 344.7L844.4 343.7L846.8 343.2L849.3 342.8L851.8 342.1L854.3 341.1L856.8 340.2L859.3 339.6L861.8 338.9L864.2 338L866.7 337L869.2 336.4L871.7 336.1L874.2 335.5L876.7 334.4L879.2 333.1L881.7 332.2L884.1 331.8L886.6 331.2L889 330.4L891.5 329.4L893.9 328.5L896.3 327.6L898.8 326.5L901.2 325.2L903.6 324.1L906 323.4L908.5 322.8L910.9 322L913.3 321L915.7 320L918.1 319L920.5 317.9L923 316.8L925.4 315.8L927.8 314.9L930.2 314L932.6 312.9L935 311.7L937.4 310.7L939.8 310L942.2 309.2L944.6 308.1L947 307L949.4 306.1L951.8 305.2L954.2 304.2L956.6 302.9L959 301.8L961.4 300.9L963.8 300.2L966.3 299.3L968.7 298L971.1 296.8L973.5 296L975.9 295.5L978.3 294.8L980.7 293.6L983.1 292.3L985.5 291.1L987.9 290.1L990.3 289L992.7 287.8L995.1 286.8L997.5 286L999.8 285.3L1002.2 284.5L1004.6 283.3L1006.9 281.9L1009.3 280.6L1011.7 279.5L1014 278.4L1016.3 277.3L1018.6 276.1L1021 274.8L1023.3 273.6L1025.5 272.3L1027.8 271.1L1030.1 269.8L1032.4 268.6L1034.6 267.4L1036.9 266.2L1039.1 265L1041.4 263.7L1043.6 262.2L1045.9 260.7L1048.2 259.3L1050.4 258L1052.7 256.9L1054.9 255.6L1057.2 254.4L1059.4 253.1L1061.7 251.8L1063.9 250.5L1066.1 249.2L1068.3 247.8L1070.5 246.3L1072.8 244.9L1074.9 243.4L1077.1 242L1079.3 240.5L1081.5 239L1083.6 237.6L1085.7 236.1L1087.9 234.8L1090 233.3L1092.1 231.8L1094.2 230.2L1096.3 228.6L1098.3 227L1100.4 225.3L1102.4 223.6L1104.4 221.9L1106.4 220.3L1108.4 218.6L1110.4 216.9L1112.4 215.2L1114.3 213.4L1116.2 211.7L1118.2 209.9L1120.1 208.2L1122 206.5L1123.9 204.7L1125.8 202.9L1127.6 201.1L1129.5 199.3L1131.3 197.5L1133.2 195.6L1135 193.6L1136.9 191.6L1138.7 189.7L1140.5 187.8L1142.3 186.1L1144.1 184.3L1145.8 182.5L1147.6 180.6L1149.3 178.6L1151.1 176.6L1152.8 174.7L1154.5 172.7L1156.2 170.8L1157.9 168.7L1159.6 166.6L1161.3 164.6L1163 162.5L1164.6 160.5L1166.2 158.6L1167.9 156.6L1169.5 154.5L1171.1 152.4L1172.6 150.3L1174.2 148.2L1175.8 146.1L1177.3 144.1L1178.8 142L1180.4 140L1181.9 137.9L1183.4 135.7L1184.9 133.6L1186.4 131.4L1187.9 129.2L1189.4 127.1L1190.9 125L1192.4 122.8L1193.9 120.7L1195.4 118.5L1196.9 116.3L1198.3 114.2L1199.8 112L1201.2 109.9L1202.6 107.7L1204 105.6L1205.5 103.4L1206.9 101.2L1208.3 99L1209.7 96.8L1211.1 94.6L1212.5 92.4L1213.9 90.3L1215.3 88.1L1216.7 85.9L1218.2 83.8L1219.6 81.6L1221.1 79.4L1222.6 77.3L1224.1 75.2L1225.6 73.1L1227.1 70.9L1228.6 68.7L1230 66.6L1231.5 64.5L1233 62.5L1234.6 60.7L1236.3 59.1L1238.4 57.9L1240.7 56.8L1243.1 55.7L1245.5 54.7L1248 53.9L1250.5 53.3L1253.1 53.1L1255.7 53.4L1258.2 54.2L1260.7 55.1L1263.1 56.1L1265.5 57.3L1267.7 58.6L1270 60L1272.1 61.8L1274 63.8L1275.7 65.9L1277.3 68L1278.8 70.1L1280.3 72.3L1281.7 74.5L1283.1 76.7L1284.5 78.9L1285.8 81.1L1287.2 83.3L1288.6 85.5L1290 87.8L1291.3 90.1L1292.6 92.4L1293.9 94.7L1295.1 97.1L1296.3 99.4L1297.5 101.7L1298.7 104L1299.9 106.4L1301 108.7L1302.2 111L1303.3 113.3L1304.5 115.6L1305.7 117.9L1306.8 120.2L1308 122.5L1309.2 124.8L1310.5 127.1L1311.7 129.3L1313 131.6L1314.3 133.8L1315.6 136L1316.9 138.2L1318.3 140.5L1319.6 142.7L1320.9 144.9L1322.3 147.1L1323.7 149.3L1325.1 151.5L1326.6 153.6L1328 155.6L1329.5 157.7L1331.1 159.7L1332.7 161.8L1334.3 163.8L1335.9 165.8L1337.6 167.7L1339.3 169.6L1341 171.6L1342.8 173.5L1344.5 175.6L1346.1 177.7L1347.8 179.8L1349.4 181.8L1351 183.9L1352.5 185.9L1354 188.1L1355.5 190.2L1357 192.4L1358.4 194.7L1359.8 196.9L1361.2 199.1L1362.6 201.3L1363.9 203.5L1365.3 205.7L1366.7 207.9L1368 210.1L1369.4 212.4L1370.8 214.6L1372.1 216.8L1373.5 219L1374.9 221.1L1376.3 223.3L1377.7 225.4L1379.1 227.6L1380.6 229.8L1382.1 231.9L1383.6 234.1L1385.1 236.2L1386.6 238.2L1388.2 240.3L1389.7 242.3L1391.3 244.3L1392.9 246.4L1394.5 248.4L1396.1 250.5L1397.7 252.5L1399.3 254.6L1400.9 256.7L1402.5 258.7L1404.1 260.8L1405.7 262.9L1407.3 264.9L1408.9 266.9L1410.5 268.9L1412.1 270.9L1413.7 273L1415.2 275.1L1416.8 277.2L1418.3 279.4L1419.8 281.5L1421.4 283.6L1422.9 285.8L1424.4 287.9L1425.9 290L1427.5 292.1L1429 294.2L1430.5 296.2L1432.1 298.2L1433.7 300.2L1435.3 302.2L1437 304.1L1438.7 306.1L1440.5 308.1L1442.2 310.1L1443.8 312.2L1445.4 314.3L1446.8 316.6L1448.2 318.9L1449.5 321.2L1450.8 323.5L1452.1 325.8L1453.3 328.1L1454.6 330.4L1455.8 332.7L1457 335L1458.2 337.3L1459.4 339.6L1460.6 341.9L1461.8 344.2L1463 346.5L1464.2 348.7L1465.5 351L1466.8 353.2L1468.1 355.4L1469.4 357.6L1470.8 359.8L1472.1 362.1L1473.4 364.3L1474.8 366.6L1476.1 368.9L1477.4 371.1L1478.7 373.4L1480 375.6L1481.3 377.9L1482.5 380.2L1483.8 382.6L1485 384.9L1486.1 387.3L1487.2 389.7L1488.3 392.1L1489.4 394.5L1490.5 396.9L1491.5 399.3L1492.5 401.7L1493.5 404.1L1494.5 406.5L1495.5 408.9L1496.5 411.3L1497.5 413.7L1498.5 416L1499.5 418.4L1500.5 420.8L1501.6 423.1L1502.7 425.5L1503.8 427.8L1504.9 430.2L1505.9 432.6L1507 434.9L1508.1 437.3L1509.2 439.6L1510.4 441.9L1511.6 444.1L1512.9 446.3L1514.3 448.4L1515.8 450.4L1517.4 452.3L1519 454.2L1520.7 456L1522.5 457.8L1524.3 459.6L1526.2 461.3L1528.2 463L1530.3 464.6L1532.4 466L1534.6 467.4L1536.8 468.8L1539.1 470L1541.4 471.2L1543.7 472.2L1546 473.3L1548.4 474.5L1550.7 475.8L1553 476.9L1555.3 478.1L1557.6 479.2L1559.9 480.4L1562.2 481.7L1564.5 483L1566.8 484.2L1569.1 485.4L1571.4 486.7L1573.7 488L1576 489.2L1578.2 490.5L1580.4 491.9L1582.6 493.4L1584.7 495L1586.7 496.7L1588.7 498.4L1590.7 500.1L1592.6 501.9L1594.6 503.7L1596.5 505.5L1598.4 507.2L1600.3 508.9L1602.3 510.6L1604.2 512.4L1606.2 514L1608.2 515.6L1610.2 517.2L1612.2 518.8L1614.2 520.4L1616.2 522.2L1618.2 523.9L1620.2 525.6L1622.3 527.2L1624.3 528.8L1626.3 530.3L1628.4 531.9L1630.5 533.5L1632.6 535L1634.6 536.6L1636.6 538.3L1638.5 540.1L1640.5 541.8L1642.6 543.4L1644.8 544.4L1647.2 544.6L1649.8 544.5L1652.4 544.6L1655 544.8L1657.6 544.8L1660.2 544.7L1662.8 544.1L1665.2 542.7L1667.3 541L1669.3 539.1L1671.2 537.2L1673 535.4L1675 533.7L1676.8 531.9L1678.6 530L1680.3 527.9L1681.9 525.7L1683.4 523.4L1684.7 521L1686 518.7L1687.2 516.1L1688.2 513.5L1689.1 510.9L1689.9 508.3L1690.6 505.8L1691.3 503.2L1691.9 500.6L1692.6 498L1693.2 495.3L1693.8 492.4L1694.4 489.2L1695 485.3L1695.6 481.1L1696.2 476.5L1696.8 471.6L1697.4 466.4L1698 461.2L1698.6 455.8L1699.2 450.3L1699.8 444.1L1700.4 437.6L1701 430.7L1701.6 423.7L1702.2 416.7L1702.8 409.9L1703.4 403.4L1704 397.4L1704.6 391.3L1705.2 385L1705.8 378.8L1706.4 373.2L1707 368.5L1707.6 365L1708.2 362.7L1708.8 360.3L1709.6 358.2L1710.6 356.6L1713.1 362.2L1713.7 364.9L1714.3 367.5L1714.9 371.2L1715.5 376L1716.1 381.6L1716.7 388L1717.3 394.6L1717.9 401.4L1718.5 408L1719.1 414.2L1719.7 420L1720.3 426.3L1720.9 432.8L1721.5 439L1722.1 444.6L1722.7 449.2L1723.3 452.4L1723.9 454.9L1724.6 457.2L1725.4 459.5L1726.3 461.7L1727.3 464L1728.3 466.5L1729.3 469.2L1730.1 471.8L1730.9 474.4L1731.6 477L1732.2 479.5L1732.9 482.1L1733.5 484.6L1734.1 487.2L1734.7 489.7L1735.3 492.2L1736 494.7L1736.6 497.2L1737.2 499.6L1737.9 502.1L1738.6 504.5L1739.3 506.9L1740.1 509.2L1741 511.6L1742 513.9L1743 516.2L1744.1 518.5L1745.2 520.9L1746.3 523.3L1747.4 525.8L1748.4 528.4L1749.2 531L1749.9 533.6L1750.6 536.1L1751.3 538.6L1752.1 541L1752.9 543.3L1753.7 545.5L1754.9 547.1L1757.1 547.3L1759.7 547.2L1762.3 549.3L1763.4 552L1764.3 554.4L1765.3 556.6L1766.4 558.6L1767.7 561L1769 563.2L1770.3 565.3L1771.8 567.1L1773.7 567.7L1776.3 565.1L1777.6 562.5L1778.6 560L1779.5 555.8L1780.1 551.7L1780.7 546.9L1781.3 542"/>
</g>
<path d="M1529.5 213.5 H1681" stroke-width="3" stroke-dashoffset="0.7" fill="none" stroke="#000" stroke-linecap="round" stroke-dasharray="10.75 11.2"/>
<path d="M1682 213.2 L1686.4 219.5" stroke-width="3.4" fill="none" stroke="#000" stroke-linecap="round"/>
<path d="M1686.1 231.95 V2338.3 L1683.6 2345.6" stroke-width="3.9" fill="none" stroke="#000" stroke-linecap="round" stroke-dasharray="10.6 11.12"/>
<path d="M1529.5 213.5 V2345.7" stroke-width="3" stroke-dashoffset="0.82" fill="none" stroke="#000" stroke-linecap="round" stroke-dasharray="10.6 11.12"/>
<path d="M1529.6 2345.8 H1675" stroke-width="3.8" stroke-dashoffset="20.3" fill="none" stroke="#000" stroke-linecap="round" stroke-dasharray="10.75 11.2"/>
<line class="tk" x1="450" y1="2352" x2="450" y2="2319"/>
<line class="tk" x1="696.2" y1="2352" x2="696.2" y2="2319"/>
<line class="tk" x1="942.6" y1="2352" x2="942.6" y2="2319"/>
<line class="tk" x1="1189" y1="2352" x2="1189" y2="2319"/>
<line class="tk" x1="1435.5" y1="2352" x2="1435.5" y2="2319"/>
<line class="tk" x1="1681.6" y1="2352" x2="1681.6" y2="2319"/>
<line class="tk" x1="327" y1="2352" x2="327" y2="2334.2"/>
<line class="tk" x1="573.1" y1="2352" x2="573.1" y2="2334.2"/>
<line class="tk" x1="819.4" y1="2352" x2="819.4" y2="2334.2"/>
<line class="tk" x1="1065.8" y1="2352" x2="1065.8" y2="2334.2"/>
<line class="tk" x1="1312.2" y1="2352" x2="1312.2" y2="2334.2"/>
<line class="tk" x1="1558" y1="2352" x2="1558" y2="2334.2"/>
<defs>
<clipPath id="c_t1750"><path clip-rule="evenodd" d="M-3000 -3000H3000V3000H-3000ZM-92.9 -8.2H-75.2V1.5H-92.9ZM-66.6 -8.2H-49.6V1.5H-66.6Z"/></clipPath>
<clipPath id="c_t1500"><path clip-rule="evenodd" d="M-3000 -3000H3000V3000H-3000ZM-92.9 -8.2H-75.2V1.5H-92.9ZM-66.6 -8.2H-49.6V1.5H-66.6Z"/></clipPath>
<clipPath id="c_t1250"><path clip-rule="evenodd" d="M-3000 -3000H3000V3000H-3000ZM-92.9 -8.2H-75.2V1.5H-92.9ZM-66.6 -8.2H-49.6V1.5H-66.6Z"/></clipPath>
<clipPath id="c_t1000"><path clip-rule="evenodd" d="M-3000 -3000H3000V3000H-3000ZM-92.9 -8.2H-75.2V1.5H-92.9ZM-66.6 -8.2H-49.6V1.5H-66.6Z"/></clipPath>
<clipPath id="c_lBST10"><path clip-rule="evenodd" d="M-3000 -3000H3000V3000H-3000ZM222.6 -7.6H239V1.5H222.6ZM246.9 -7.6H262.6V1.5H246.9Z"/></clipPath>
<clipPath id="c_xt"><path clip-rule="evenodd" d="M-3000 -3000H3000V3000H-3000ZM751.8 -48.6H762.9V-41.7H751.8ZM768.2 -48.6H778.9V-41.7H768.2Z"/></clipPath>
</defs>
<text id="t2000" class="tl" transform="translate(204 2459) scale(1 1.01)">2000</text>
<text id="t1750" class="tl" clip-path="url(#c_t1750)" dx="3.6 -3.6" transform="translate(450 2459) scale(1 1.01)">1750</text>
<text id="t1500" class="tl" clip-path="url(#c_t1500)" dx="3.6 -3.6" transform="translate(696.2 2459) scale(1 1.01)">1500</text>
<text id="t1250" class="tl" clip-path="url(#c_t1250)" dx="3.6 -3.6" transform="translate(942.6 2459) scale(1 1.01)">1250</text>
<text id="t1000" class="tl" clip-path="url(#c_t1000)" dx="3.6 -3.6" transform="translate(1189 2459) scale(1 1.01)">1000</text>
<text id="t750" class="tl" transform="translate(1435.5 2459) scale(1 1.01)">750</text>
<text id="t500" class="tl" transform="translate(1681.6 2459) scale(1 1.01)">500</text>
<text id="lBTO" class="lb" transform="translate(221.2 427.9) scale(1 1.022)">BTO</text>
<text id="lBST80" class="lb" transform="translate(210.4 601) scale(1 1.022)">BST_80</text>
<text id="lBST70" class="lb" transform="translate(208.1 913.7) scale(1 1.022)">BST_70</text>
<text id="lBST55" class="lb" transform="translate(215.5 1044.7) scale(1 1.022)">BST_55</text>
<text id="lBST50" class="lb" transform="translate(206.9 1204.7) scale(1 1.022)">BST_50</text>
<text id="lBST40" class="lb" transform="translate(200.1 1452.2) scale(1 1.022)">BST_40</text>
<text id="lBST10" class="lb" clip-path="url(#c_lBST10)" dx="0 0 0 0 3.3 -3.3" transform="translate(206.9 1773) scale(1 1.022)">BST_10</text>
<text id="lSTO" class="lb" transform="translate(207.5 1945.8) scale(1 1.022)">STO</text>
<text id="lTiO" class="lb" transform="translate(1526 186.9) scale(1 1.022)">Ti-O</text>
<text id="xt" class="at" clip-path="url(#c_xt)" style="font-size:90.5px" transform="translate(589.8 2605.8) scale(1.036 1.0)">Wavenumber / cm<tspan font-size="56px" dx="-2.8 2.4" dy="-43.2">-1</tspan></text>
<text id="yt" class="at" style="font-size:92.8px" transform="translate(114.1 1726.8) rotate(-90) scale(1 0.99)">Transmittance / arbit. units</text>
</svg>
</body>
</html>
